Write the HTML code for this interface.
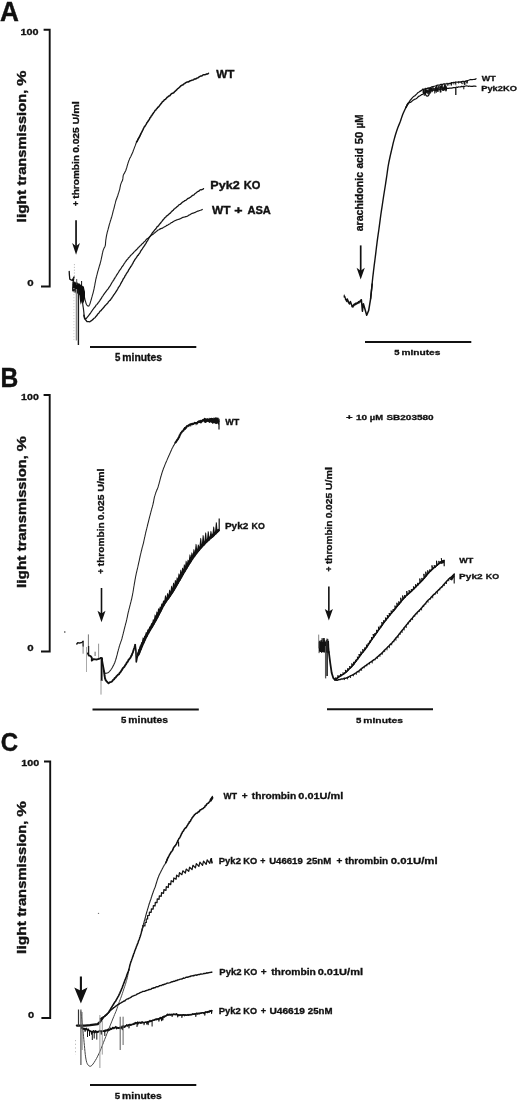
<!DOCTYPE html>
<html><head><meta charset="utf-8"><title>Figure</title>
<style>html,body{margin:0;padding:0;background:#fff;}body{width:520px;height:1105px;overflow:hidden;font-family:"Liberation Sans",sans-serif;}svg{display:block;filter:grayscale(1);}.t{stroke:#111;stroke-width:0.32px;vector-effect:non-scaling-stroke;}.tb{stroke:#111;stroke-width:0.4px;vector-effect:non-scaling-stroke;}</style>
</head><body>
<svg width="520" height="1105" viewBox="0 0 520 1105" font-family="Liberation Sans, sans-serif" font-weight="bold" fill="#111">
<path d="M43.6 29.8 H49.7 V286.5 H41.0" fill="none" stroke="#111" stroke-width="1.9"/>
<path d="M43.6 395.0 H49.7 V651.5 H41.0" fill="none" stroke="#111" stroke-width="1.9"/>
<path d="M44.0 761.5 H50.2 V1018.0 H41.4" fill="none" stroke="#111" stroke-width="1.9"/>
<line x1="90" y1="347" x2="196.3" y2="347" stroke="#111" stroke-width="2.0"/>
<line x1="365" y1="342" x2="471.3" y2="342" stroke="#111" stroke-width="2.0"/>
<line x1="92.5" y1="709.5" x2="198.8" y2="709.5" stroke="#111" stroke-width="2.0"/>
<line x1="327" y1="709.3" x2="433" y2="709.3" stroke="#111" stroke-width="2.0"/>
<line x1="90" y1="1085" x2="196.3" y2="1085" stroke="#111" stroke-width="2.0"/>
<line x1="76.05" y1="220.2" x2="76.05" y2="246.7" stroke="#111" stroke-width="1.7"/>
<path d="M72.15 243 L76.05 246.2 L79.95 243 L76.05 254.8 Z" fill="#111"/>
<line x1="360.7" y1="245.4" x2="360.7" y2="271.2" stroke="#111" stroke-width="1.7"/>
<path d="M356.6 267.7 L360.7 270.7 L364.8 267.7 L360.7 279.6 Z" fill="#111"/>
<line x1="101.5" y1="588" x2="101.5" y2="614" stroke="#111" stroke-width="1.6"/>
<path d="M97.5 610.7 L101.5 613.5 L105.5 610.7 L101.5 622.3 Z" fill="#111"/>
<line x1="328.85" y1="586.5" x2="328.85" y2="612" stroke="#111" stroke-width="1.6"/>
<path d="M324.8 609 L328.85 611.5 L332.9 609 L328.85 620.6 Z" fill="#111"/>
<line x1="80.9" y1="976.5" x2="80.9" y2="991.3" stroke="#111" stroke-width="2.1"/>
<path d="M74.3 987.6 L80.9 990.8 L87.5 987.6 L80.9 1003.5 Z" fill="#111"/>
<text transform="matrix(26.2121 0 0 26.7647 0.11 21.37)" font-size="1" word-spacing="0.09" class="tb" >A</text>
<text transform="matrix(24.5902 0 0 26.8116 0.58 386.80)" font-size="1" word-spacing="0.09" class="tb" >B</text>
<text transform="matrix(24.0000 0 0 26.3380 0.74 751.24)" font-size="1" word-spacing="0.09" class="tb" >C</text>
<text transform="matrix(10.8280 0 0 8.4507 20.45 34.52)" font-size="1" word-spacing="0.09" class="t" >100</text>
<text transform="matrix(10.6051 0 0 8.8028 21.11 399.81)" font-size="1" word-spacing="0.09" class="t" >100</text>
<text transform="matrix(10.7643 0 0 8.8732 21.25 766.21)" font-size="1" word-spacing="0.09" class="t" >100</text>
<text transform="matrix(11.4894 0 0 8.1690 27.34 285.92)" font-size="1" word-spacing="0.09" class="t" >0</text>
<text transform="matrix(11.4894 0 0 8.1690 27.34 650.92)" font-size="1" word-spacing="0.09" class="t" >0</text>
<text transform="matrix(11.0638 0 0 8.4507 27.96 1017.62)" font-size="1" word-spacing="0.09" class="t" >0</text>
<text transform="matrix(0 -15.4156 13.3511 0 25.95 222.38)" font-size="1" class="tb">light</text>
<text transform="matrix(0 -14.7408 13.3511 0 25.95 185.49)" font-size="1" class="tb">transmission,</text>
<text transform="matrix(0 -17.4921 13.3511 0 25.95 85.89)" font-size="1" class="tb">%</text>
<text transform="matrix(0 -15.4361 13.3511 0 25.95 588.08)" font-size="1" class="tb">light</text>
<text transform="matrix(0 -14.7604 13.3511 0 25.95 551.14)" font-size="1" class="tb">transmission,</text>
<text transform="matrix(0 -17.5153 13.3511 0 25.95 451.41)" font-size="1" class="tb">%</text>
<text transform="matrix(0 -15.4924 13.3511 0 25.95 953.88)" font-size="1" class="tb">light</text>
<text transform="matrix(0 -14.8143 13.3511 0 25.95 916.81)" font-size="1" class="tb">transmission,</text>
<text transform="matrix(0 -17.5793 13.3511 0 25.95 816.72)" font-size="1" class="tb">%</text>
<text transform="matrix(0 -8.3200 9.7297 0 79.10 206.12)" font-size="1" class="t">+</text>
<text transform="matrix(0 -10.1070 9.7297 0 79.10 198.72)" font-size="1" class="t">thrombin</text>
<text transform="matrix(0 -10.1869 9.7297 0 79.10 152.85)" font-size="1" class="t">0.025</text>
<text transform="matrix(0 -10.7569 9.7297 0 79.10 124.59)" font-size="1" class="t">U/ml</text>
<text transform="matrix(0 -8.3520 9.4595 0 104.11 573.63)" font-size="1" class="t">+</text>
<text transform="matrix(0 -10.1459 9.4595 0 104.11 566.19)" font-size="1" class="t">thrombin</text>
<text transform="matrix(0 -10.2261 9.4595 0 104.11 520.14)" font-size="1" class="t">0.025</text>
<text transform="matrix(0 -10.7982 9.4595 0 104.11 491.78)" font-size="1" class="t">U/ml</text>
<text transform="matrix(0 -8.2880 9.0541 0 331.51 571.42)" font-size="1" class="t">+</text>
<text transform="matrix(0 -10.0682 9.0541 0 331.51 564.05)" font-size="1" class="t">thrombin</text>
<text transform="matrix(0 -10.1477 9.0541 0 331.51 518.35)" font-size="1" class="t">0.025</text>
<text transform="matrix(0 -10.7155 9.0541 0 331.51 490.20)" font-size="1" class="t">U/ml</text>
<text transform="matrix(0 -10.5946 10.4255 0 362.71 231.32)" font-size="1" class="t">arachidonic</text>
<text transform="matrix(0 -10.3158 10.4255 0 362.71 168.61)" font-size="1" class="t">acid</text>
<text transform="matrix(0 -11.2500 10.4255 0 362.71 144.24)" font-size="1" class="t">50</text>
<text transform="matrix(0 -9.7778 10.4255 0 362.71 128.48)" font-size="1" class="t">µ</text>
<text transform="matrix(0 -9.8571 10.4255 0 362.71 122.69)" font-size="1" class="t">M</text>
<text transform="matrix(11.7097 0 0 11.2319 216.25 77.75)" font-size="1" word-spacing="0.09" class="tb" >WT</text>
<text transform="matrix(12.6233 0 0 11.0638 210.22 188.58)" font-size="1" class="tb">Pyk2</text>
<text transform="matrix(11.0791 0 0 11.0638 243.72 188.58)" font-size="1" class="tb">KO</text>
<text transform="matrix(11.9355 0 0 11.5493 212.00 214.08)" font-size="1" class="tb">WT</text>
<text transform="matrix(14.2000 0 0 11.5493 234.33 214.08)" font-size="1" class="tb">+</text>
<text transform="matrix(11.0976 0 0 11.5493 247.42 214.08)" font-size="1" class="tb">ASA</text>
<text transform="matrix(9.6720 0 0 10.0000 114.91 360.90)" font-size="1" class="t">5</text>
<text transform="matrix(10.3875 0 0 10.0000 122.33 360.90)" font-size="1" class="t">minutes</text>
<text transform="matrix(8.9677 0 0 7.8261 481.70 80.80)" font-size="1" word-spacing="0.09" class="t" >WT</text>
<text transform="matrix(9.3011 0 0 7.0213 481.25 90.53)" font-size="1" word-spacing="0.09" class="t" >Pyk2KO</text>
<text transform="matrix(9.4640 0 0 7.4324 394.22 354.93)" font-size="1" class="t">5</text>
<text transform="matrix(10.1641 0 0 7.4324 401.48 354.93)" font-size="1" class="t">minutes</text>
<text transform="matrix(9.0323 0 0 8.6957 225.20 425.20)" font-size="1" word-spacing="0.09" class="t" >WT</text>
<text transform="matrix(10.0393 0 0 8.6170 224.90 528.79)" font-size="1" class="t">Pyk2</text>
<text transform="matrix(8.8207 0 0 8.6170 251.52 528.79)" font-size="1" class="t">KO</text>
<text transform="matrix(9.6200 0 0 9.1216 120.96 722.91)" font-size="1" class="t">5</text>
<text transform="matrix(10.3317 0 0 9.1216 128.34 722.91)" font-size="1" class="t">minutes</text>
<text transform="matrix(11.4000 0 0 7.1429 345.94 420.00)" font-size="1" class="t">+</text>
<text transform="matrix(10.0000 0 0 7.1429 355.90 420.00)" font-size="1" class="t">10</text>
<text transform="matrix(9.4488 0 0 7.1429 369.74 420.00)" font-size="1" class="t">µM</text>
<text transform="matrix(9.9892 0 0 7.1429 386.45 420.00)" font-size="1" class="t">SB203580</text>
<text transform="matrix(9.0323 0 0 7.9710 459.30 563.10)" font-size="1" word-spacing="0.09" class="t" >WT</text>
<text transform="matrix(10.0781 0 0 7.9787 459.09 579.12)" font-size="1" class="t">Pyk2</text>
<text transform="matrix(8.8548 0 0 7.9787 485.82 579.12)" font-size="1" class="t">KO</text>
<text transform="matrix(9.6200 0 0 8.1081 355.96 722.92)" font-size="1" class="t">5</text>
<text transform="matrix(10.3317 0 0 8.1081 363.34 722.92)" font-size="1" class="t">minutes</text>
<text transform="matrix(8.6452 0 0 8.4459 223.50 798.67)" font-size="1" class="t">WT</text>
<text transform="matrix(10.0000 0 0 8.4459 241.85 798.67)" font-size="1" class="t">+</text>
<text transform="matrix(10.2582 0 0 8.4459 251.80 798.67)" font-size="1" class="t">thrombin</text>
<text transform="matrix(10.9375 0 0 8.4459 298.31 798.67)" font-size="1" class="t">0.01U/ml</text>
<text transform="matrix(9.5067 0 0 8.5106 218.73 863.71)" font-size="1" class="t">Pyk2</text>
<text transform="matrix(9.2806 0 0 8.5106 243.35 863.71)" font-size="1" class="t">KO</text>
<text transform="matrix(8.8000 0 0 8.5106 260.25 863.71)" font-size="1" class="t">+</text>
<text transform="matrix(9.6041 0 0 8.5106 269.17 863.71)" font-size="1" class="t">U46619</text>
<text transform="matrix(9.6341 0 0 8.5106 306.61 863.71)" font-size="1" class="t">25nM</text>
<text transform="matrix(10.0000 0 0 8.5106 336.50 863.71)" font-size="1" class="t">+</text>
<text transform="matrix(9.9765 0 0 8.5106 344.90 863.71)" font-size="1" class="t">thrombin</text>
<text transform="matrix(11.4125 0 0 8.5106 390.79 863.71)" font-size="1" class="t">0.01U/ml</text>
<text transform="matrix(9.5291 0 0 8.8298 219.33 974.75)" font-size="1" class="t">Pyk2</text>
<text transform="matrix(8.9928 0 0 8.8298 243.77 974.75)" font-size="1" class="t">KO</text>
<text transform="matrix(10.0000 0 0 8.8298 260.85 974.75)" font-size="1" class="t">+</text>
<text transform="matrix(10.3286 0 0 8.8298 271.15 974.75)" font-size="1" class="t">thrombin</text>
<text transform="matrix(11.0375 0 0 8.8298 317.66 974.75)" font-size="1" class="t">0.01U/ml</text>
<text transform="matrix(9.5067 0 0 8.7234 218.73 1013.67)" font-size="1" class="t">Pyk2</text>
<text transform="matrix(9.0647 0 0 8.7234 243.37 1013.67)" font-size="1" class="t">KO</text>
<text transform="matrix(9.2000 0 0 8.7234 260.63 1013.67)" font-size="1" class="t">+</text>
<text transform="matrix(10.1906 0 0 8.7234 269.39 1013.67)" font-size="1" class="t">U46619</text>
<text transform="matrix(9.6748 0 0 8.7234 307.81 1013.67)" font-size="1" class="t">25nM</text>
<text transform="matrix(9.6200 0 0 9.1216 114.71 1099.16)" font-size="1" class="t">5</text>
<text transform="matrix(10.3317 0 0 9.1216 122.09 1099.16)" font-size="1" class="t">minutes</text>
<path d="M83.8 292.95 L83.96 294.23 L84.11 295.18 L84.28 295.96 L84.47 297.04 L84.67 298 L84.89 299.06 L85.12 300.09 L85.35 300.78 L85.6 301.72 L85.89 303 L86.21 303.79 L86.65 304.82 L87.21 305.34 L87.99 306.12 L88.88 305.98 L89.39 304.93 L89.78 304.3 L90.12 303.34 L90.42 302.04 L90.71 301.08 L90.99 300.32 L91.26 299.52 L91.53 298.33 L91.81 297.31 L92.09 296.43 L92.36 295.31 L92.64 294.43 L92.9 293.55 L93.16 292.6 L93.4 291.53 L93.64 290.56 L93.86 289.58 L94.07 288.7 L94.27 287.65 L94.45 286.56 L94.63 285.9 L94.81 284.8 L94.99 283.85 L95.17 282.69 L95.35 282.03 L95.55 280.99 L95.75 279.72 L95.96 278.83 L96.18 278.01 L96.41 277.03 L96.65 276.15 L96.89 274.97 L97.14 274.17 L97.39 273.13 L97.64 272.02 L97.9 271.17 L98.17 270.32 L98.45 269.35 L98.73 268.25 L99.04 267.33 L99.34 266.16 L99.63 265.29 L99.92 264.55 L100.19 263.43 L100.45 262.37 L100.68 261.55 L100.9 260.64 L101.12 259.65 L101.33 258.55 L101.55 257.6 L101.75 256.65 L101.96 255.78 L102.17 254.7 L102.38 253.67 L102.6 252.73 L102.83 251.58 L103.07 250.61 L103.33 249.91 L103.65 249.08 L104.08 248.02 L104.67 247.13 L105.1 246.15 L105.31 245.31 L105.43 244.51 L105.51 243.42 L105.58 242.34 L105.66 241.47 L105.77 240.22 L105.9 239.34 L106.05 238.53 L106.21 237.39 L106.39 236.36 L106.57 235.3 L106.77 234.43 L106.99 233.62 L107.22 232.27 L107.47 231.61 L107.72 230.66 L107.99 229.72 L108.25 228.7 L108.52 227.76 L108.78 226.68 L109.04 225.73 L109.3 224.71 L109.57 223.6 L109.85 222.97 L110.14 221.89 L110.43 220.78 L110.73 219.95 L111.04 218.99 L111.34 217.99 L111.63 217.03 L111.92 216.15 L112.18 215.22 L112.44 214.24 L112.68 213.21 L112.93 212.07 L113.17 211.18 L113.42 210.19 L113.67 209.39 L113.91 208.53 L114.16 207.53 L114.4 206.56 L114.65 205.6 L114.9 204.41 L115.15 203.68 L115.42 202.65 L115.69 201.45 L115.97 200.46 L116.28 199.51 L116.62 198.87 L116.97 197.73 L117.32 196.73 L117.65 196 L117.96 194.93 L118.27 193.87 L118.57 192.95 L118.86 192.15 L119.15 191.04 L119.43 190.12 L119.68 189.33 L119.91 188.26 L120.1 187.22 L120.3 186.3 L120.5 185.14 L120.76 184.32 L121.09 183.39 L121.48 182.38 L121.89 181.44 L122.31 180.84 L122.65 179.75 L122.85 178.65 L122.95 177.82 L123.02 176.9 L123.21 175.6 L123.54 174.66 L123.98 173.82 L124.48 173.18 L124.97 172.08 L125.39 171.4 L125.8 170.47 L126.11 169.47 L126.43 168.39 L126.71 167.74 L126.99 166.7 L127.27 165.63 L127.55 164.55 L127.83 163.77 L128.14 162.71 L128.46 161.84 L128.78 160.79 L129.16 159.99 L129.55 158.84 L129.97 158.02 L130.4 157.39 L130.83 156.45 L131.27 155.33 L131.71 154.65 L132.12 153.52 L132.53 152.86 L132.91 151.85 L133.27 150.79 L133.63 149.79 L133.97 148.75 L134.31 148.16 L134.65 146.88 L134.99 146.26 L135.34 145.38 L135.7 144.29 L136.08 143.2 L136.46 142.55 L136.89 141.69 L137.32 140.69 L137.77 139.71 L138.24 138.78 L138.71 137.89 L139.2 136.95 L139.69 136.27 L140.17 135.3 L140.66 134.33 L140.8 134.04" fill="none" stroke="#222" stroke-width="1.1" stroke-linejoin="round" stroke-linecap="round" />
<path d="M136.5 142.07 L136.97 141.55 L137.44 140.63 L137.92 139.64 L138.39 138.58 L138.86 138.1 L139.33 137.22 L139.8 136.13 L140.26 135.24 L140.72 134.17 L141.17 133.11 L141.61 132.47 L142.05 131.72 L142.48 130.46 L142.91 130.06 L143.34 128.77 L143.78 127.87 L144.25 126.85 L144.73 126.64 L145.24 125.61 L145.8 124.87 L146.38 123.87 L146.96 122.65 L147.53 122.03 L148.07 121.31 L148.6 120.2 L149.12 119.93 L149.64 118.67 L150.16 117.66 L150.69 117.28 L151.23 115.95 L151.79 115.68 L152.35 114.53 L152.93 113.78 L153.51 112.82 L154.1 112.11 L154.7 111.1 L155.3 110.2 L155.92 110 L156.55 108.77 L157.19 108.38 L157.83 107.22 L158.47 106.99 L159.12 106.17 L159.76 105.3 L160.39 104.54 L161.03 103.64 L161.67 102.98 L162.32 101.79 L163 101.3 L163.69 100.83 L164.41 99.7 L165.15 99.52 L165.9 98.84 L166.65 97.85 L167.42 97.17 L168.19 96.6 L168.98 95.93 L169.77 95.75 L170.56 94.71 L171.35 93.85 L172.15 93.3 L172.95 93.14 L173.75 92.73 L174.53 91.75 L175.28 91.09 L176.01 90.44 L176.72 89.88 L177.45 88.83 L178.2 88.43 L178.95 87.74 L179.71 87.13 L180.47 86.18 L181.26 85.56 L182.07 85.09 L182.89 84.93 L183.73 83.98 L184.59 83.64 L185.45 82.94 L186.34 82.33 L187.24 81.87 L188.15 81.99 L189.07 81.55 L189.98 80.86 L190.9 80.68 L191.81 80.27 L192.73 80.04 L193.65 79.69 L194.58 78.92 L195.5 78.94 L196.42 78.53 L197.33 77.87 L198.24 77.65 L199.15 76.95 L200.06 76.45 L200.97 75.95 L201.88 75.98 L202.79 75.07 L203.72 74.63 L204.66 74.8 L205.61 74.49 L206.58 74.04 L207.56 74.06 L208.5 73.29" fill="none" stroke="#111" stroke-width="1.5" stroke-linejoin="round" stroke-linecap="round" />
<path d="M82.3 301.73 L82.46 302.71 L82.62 303.25 L82.78 304.25 L82.93 305.62 L83.09 306.56 L83.24 307.51 L83.39 308.32 L83.52 309.46 L83.64 310.45 L83.74 311.43 L83.83 312.22 L83.93 313.35 L84.04 314.32 L84.19 315.48 L84.42 316.59 L84.72 317.52 L85.16 318.21 L85.94 318.7 L86.7 317.99 L87.35 317.11 L87.96 316.32 L88.56 315.73 L89.14 314.85 L89.71 314.06 L90.3 313.5 L90.88 312.51 L91.46 311.71 L92.04 310.74 L92.62 309.81 L93.2 309.15 L93.78 308.24 L94.37 307.62 L94.96 307.05 L95.55 306.09 L96.16 305.05 L96.78 304.62 L97.41 303.8 L98.03 302.98 L98.65 302.28 L99.25 301.41 L99.83 300.61 L100.39 299.56 L100.94 299.04 L101.48 298.19 L102.02 296.95 L102.56 296.4 L103.1 295.54 L103.66 294.58 L104.22 293.79 L104.81 292.96 L105.4 292.38 L106.02 291.38 L106.63 290.75 L107.25 289.72 L107.85 289.19 L108.44 288.39 L109.02 287.36 L109.57 286.58 L110.11 285.91 L110.64 284.97 L111.17 284 L111.69 283.01 L112.21 282.21 L112.73 281.54 L113.26 280.43 L113.78 279.94 L114.3 278.77 L114.81 278.23 L115.33 277.08 L115.86 276.55 L116.39 275.58 L116.93 274.63 L117.47 273.8 L118.01 273.03 L118.55 272.15 L119.1 271.18 L119.65 270.29 L120.2 269.61 L120.75 268.99 L121.31 268 L121.86 266.89 L122.42 266.43 L122.97 265.56 L123.53 264.82 L124.1 263.64 L124.67 263.09 L125.25 261.94 L125.84 261.42 L126.45 260.44 L127.06 259.63 L127.69 259.17 L128.32 258.01 L128.96 257.45 L129.62 256.86 L130.28 255.81 L130.96 255.06 L131.65 254.67 L132.36 253.74 L133.08 253.19 L133.8 252.15 L134.51 251.61 L135.22 250.81 L135.92 250.35 L136.62 249.34 L137.32 249.06 L138.01 247.88 L138.71 247.52 L139.41 246.45 L140.12 245.86 L140.82 245.43 L141.53 244.39 L142.24 243.7 L142.95 243.25 L143.65 242.39 L144.36 241.51 L145.06 241.27 L145.75 240.13 L146.46 239.36 L147.19 238.83 L147.94 238.3 L148.7 237.73 L149.48 236.78 L150.26 236.27 L151.04 235.49 L151.82 235.07 L152.59 234.59 L153.36 233.94 L154.13 233.38 L154.9 232.67 L155.68 232.1 L156.47 231.41 L157.28 230.7 L158.1 230.02 L158.96 229.72 L159.87 229.12 L160.78 228.62 L161.69 228.37 L162.58 228.13 L163.46 227.27 L164.32 227 L165.19 226.41 L166.05 225.96 L166.92 225.28 L167.78 225.18 L168.65 224.33 L169.51 224 L170.38 223.4 L171.24 222.7 L172.11 222.48 L172.99 221.78 L173.87 221.27 L174.75 220.8 L175.65 220.41 L176.54 219.94 L177.45 219.78 L178.36 219.31 L179.28 219.15 L180.2 218.74 L181.13 218.39 L182.06 217.66 L183.01 217.43 L183.96 217.03 L184.92 216.91 L185.87 216.63 L186.81 216.38 L187.73 215.93 L188.61 215.23 L189.48 214.83 L190.38 214.44 L191.29 213.78 L192.22 213.4 L193.14 213.2 L194.06 212.67 L194.98 212.59 L195.91 211.96 L196.83 211.51 L197.76 211.18 L198.69 210.84 L199.62 210.47 L200.56 210.27 L201.49 209.89 L202.3 209.5" fill="none" stroke="#1a1a1a" stroke-width="1.2" stroke-linejoin="round" stroke-linecap="round" />
<path d="M83.8 315.24 L84.01 316.4 L84.24 317.27 L84.53 318.37 L84.96 319.28 L85.51 319.78 L86.18 320.49 L86.99 321.57 L87.89 321.64 L88.88 321.72 L89.83 321.87 L90.69 321.05 L91.52 320.71 L92.32 319.9 L93.09 319.36 L93.84 318.41 L94.57 318.01 L95.25 317.42 L95.91 316.46 L96.56 315.83 L97.2 315.02 L97.83 313.88 L98.47 313.53 L99.11 312.66 L99.76 311.73 L100.41 310.8 L101.05 310.54 L101.7 309.54 L102.35 308.93 L103 308.27 L103.66 307.41 L104.31 306.78 L104.98 305.72 L105.65 305.23 L106.33 304.28 L107.02 303.85 L107.7 303.08 L108.38 301.88 L109.06 301.17 L109.7 300.45 L110.35 300.14 L110.96 299.02 L111.56 298.34 L112.13 297.33 L112.7 296.63 L113.25 295.72 L113.8 294.86 L114.35 294.16 L114.89 293.32 L115.43 292.67 L115.96 291.7 L116.49 291 L117.02 290.1 L117.54 289.33 L118.06 288.28 L118.58 287.12 L119.09 286.68 L119.6 285.88 L120.1 284.98 L120.59 283.91 L121.09 283.13 L121.58 281.95 L122.06 281.45 L122.55 280.43 L123.04 279.38 L123.54 278.38 L124.04 277.99 L124.54 277.2 L125.05 275.8 L125.56 275.37 L126.08 274.28 L126.6 273.28 L127.13 272.51 L127.65 271.94 L128.17 271.15 L128.7 269.8 L129.22 269.3 L129.74 268.1 L130.27 267.65 L130.78 266.56 L131.29 266.03 L131.8 265.23 L132.31 264.08 L132.81 263.52 L133.32 262.24 L133.83 261.24 L134.35 260.7 L134.88 259.51 L135.43 258.78 L135.99 258.07 L136.57 257.38 L137.16 256.3 L137.75 255.43 L138.32 255.1 L138.89 253.95 L139.44 253.5 L139.98 252.62 L140.52 251.46 L141.05 250.67 L141.58 249.86 L142.12 249.09 L142.66 248.22 L143.22 247.36 L143.78 246.57 L144.34 245.94 L144.91 244.85 L145.46 243.98 L146 243.31 L146.51 242.16 L147.01 241.33 L147.51 240.87 L148.02 239.74 L148.55 238.91 L149.08 237.74 L149.62 237.13 L150.16 236.39 L150.7 235.21 L151.25 234.74 L151.81 233.92 L152.38 232.76 L152.97 232.29 L153.57 231.39 L154.18 230.73 L154.81 229.75 L155.44 229.19 L156.1 228.46 L156.77 227.28 L157.43 226.55 L158.07 226.16 L158.71 225.56 L159.35 224.36 L159.98 223.71 L160.62 223.02 L161.25 222.09 L161.89 221.34 L162.52 220.54 L163.15 219.79 L163.79 219.16 L164.44 218.22 L165.12 217.53 L165.83 217.07 L166.56 215.94 L167.32 215.62 L168.09 215.08 L168.86 214.18 L169.61 213.47 L170.35 213.15 L171.07 212.11 L171.78 211.38 L172.48 210.82 L173.19 210.27 L173.91 209.21 L174.64 208.66 L175.39 208 L176.14 207.65 L176.9 206.76 L177.67 206.37 L178.44 205.33 L179.22 204.8 L180.01 204.37 L180.8 203.9 L181.6 203.04 L182.41 202.32 L183.22 201.67 L184.03 201.34 L184.86 200.56 L185.68 200.36 L186.51 199.82 L187.34 198.88 L188.18 198.38 L189.01 198.15 L189.85 197.5 L190.69 197.06 L191.53 196.24 L192.36 195.56 L193.19 195.09 L193.99 194.8 L194.78 193.86 L195.54 193.27 L196.32 192.68 L197.1 192.06 L197.92 191.48 L198.77 191.26 L199.64 190.31 L200.53 189.76 L201.42 189.88 L202.32 189.4 L203.22 189.03 L203.5 188.56" fill="none" stroke="#151515" stroke-width="1.3" stroke-linejoin="round" stroke-linecap="round" />
<path d="M69.2 271.4 L69.4 275 L69.8 279.2 L71 279.8 L72.1 280.4 L73.2 278.5 L74.1 276.9 L73.6 279.5 L73 282.7" fill="none" stroke="#111" stroke-width="1.3" stroke-linejoin="round" stroke-linecap="round" />
<line x1="74.4" y1="264" x2="74.4" y2="279" stroke="#bbb" stroke-width="1" stroke-dasharray="1.2 1.6"/>
<path d="M72.61 284 L72.8 284.68 L72.81 290.77 L72.85 288.2 L72.95 287.92 L72.96 286.62 L73.06 291.42 L73.42 284.66 L73.47 288.5 L73.5 287.73 L73.55 288.65 L73.6 289.73 L73.64 285.78 L73.67 288.18 L73.68 290.34 L73.72 285.55 L73.79 292.11 L73.8 283.29 L73.99 286.83 L74 285.18 L74.16 289.05 L74.22 287.69 L74.27 283.34 L74.47 283.27 L74.69 290.1 L74.7 286.76 L74.78 284.77 L74.8 288.18 L74.86 285.66 L74.87 290.31 L74.94 292.43 L74.96 287.51 L75.01 285.06 L75.11 287.25 L75.13 286.08 L75.14 285.98 L75.15 287.46 L75.44 290.4 L75.49 289.45 L75.57 285.58 L75.64 283.93 L75.66 291.66 L75.89 285.58 L76.04 284.73 L76.13 284.81 L76.18 290.59 L76.22 292.58 L76.35 286.43 L76.35 292.22 L76.39 293.77 L76.49 290.66 L76.79 291.02 L76.91 293.05 L77.02 288.96 L77.56 292.49 L77.62 286 L77.84 293.11 L77.84 293.15 L77.86 293.63 L77.9 285.76 L77.96 287.83 L77.98 290.55 L78.04 287.91 L78.32 287.62 L78.34 292.38 L78.55 291.86 L78.64 291.21 L78.78 291.79 L78.89 286.34 L79.26 290.24 L79.26 294.09 L79.41 287.34 L79.44 294.33 L79.53 291.94 L79.54 289.17 L79.7 289.05 L79.91 289.05 L79.91 295.13 L80.04 290.09 L80.05 291.16 L80.1 294.03 L80.38 292.52 L80.83 292.49 L80.85 287.35 L80.91 291.71 L80.94 296.15 L81.06 296.1 L81.27 290.89 L81.35 292.77 L81.37 295.81 L81.37 293.95 L81.4 296.21 L81.72 291.28 L81.8 290.64 L81.86 290.12 L82.04 296.36 L82.08 289.38 L82.19 296.44 L82.56 296.04 L82.6 294.72 L82.67 291.72 L82.77 294.2 L82.88 293.61 L83.08 291.94 L83.1 294.03 L83.32 296.71 L83.38 294.74 L83.41 296.26 L83.43 292.96 L83.52 290.49 L83.6 293.02 L84 296.89 L84.01 293.44 L84.07 296.08 L84.15 296.56 L84.27 292.78 L84.27 295.24 L84.29 298.18 L84.42 297.45 L84.47 298.58" fill="none" stroke="#111" stroke-width="0.8" stroke-linejoin="round" stroke-linecap="round" />
<path d="M72.38 283.63 L73.6 281.21 L73.91 282.5 L74.86 281.25 L76.11 283.08 L77.03 281.93 L77.99 283.55 L79.3 283.32 L80.24 284.86 L81.34 284.15 L82.5 285.92 L83.81 286.41 L84.34 289.33 L85.01 291.67 L84.89 296.36 L84.57 299.44 L83.78 302.35 L82.87 303.73 L81.92 301.14 L80.8 304.75 L80.14 301.94 L79.66 296.98 L79.13 292.12 L78.64 289.87 L77.29 289.13 L75.41 288.39 L74.61 287.34 L72.97 287.39 L72.72 286.01 Z" fill="#0d0d0d"/>
<line x1="76.4" y1="289" x2="76.4" y2="340.5" stroke="#8a8a8a" stroke-width="1.3"/>
<line x1="78.4" y1="290" x2="78.4" y2="345" stroke="#1a1a1a" stroke-width="1.4"/>
<line x1="81.6" y1="281" x2="81.6" y2="286" stroke="#111" stroke-width="1.0"/>
<line x1="76.7" y1="279" x2="76.7" y2="285" stroke="#444" stroke-width="0.9"/>
<line x1="73.9" y1="288" x2="73.9" y2="340" stroke="#ccc" stroke-width="0.9" stroke-dasharray="1.2 1.8"/>
<path d="M344.28 294.97 L344.08 297.01 L344.32 295.81 L344.68 297.41 L344.95 296.57 L345.15 298.23 L345.18 296.94 L345.39 299.46 L345.58 298.35 L345.83 300.06 L345.79 299.07 L346.21 300.86 L346.47 299.48 L346.71 301.61 L346.96 299.83 L346.93 301.32 L347.08 298.86 L347.61 300.39 L347.53 298.84 L347.96 300.79 L347.88 299.85 L348.04 302.11 L348.39 300.7 L348.52 302.78 L348.88 301.67 L348.83 303.56 L349 302.31 L349.32 304.26 L349.7 302.8 L349.66 304.31 L349.91 302.06 L350.08 303.41 L350.57 301.27 L350.6 302.8 L350.99 302.15 L351.01 303.79 L351.06 302.88 L351.14 304.44 L351.41 303.44 L351.6 305.41 L351.76 304.79 L351.8 306.67 L352.22 305.33 L352.42 307.24 L352.72 305.63 L353.21 307.08 L353.29 304.87 L353.6 306.09 L353.92 304.07 L354.14 305.78 L354.28 303.7 L354.94 304.98 L355.2 303.32 L355.73 304.71 L355.98 302.83 L356.5 304.19 L356.82 302.82 L357.45 303.73 L357.58 302.41 L358.04 303.25 L358.38 301.52 L359 303.22 L359.04 301.33 L359.75 302.24 L359.86 300.75 L360.25 302.14 L360.68 300.12 L360.77 301.1 L361.05 299.67 L361.47 300.34" fill="none" stroke="#111" stroke-width="1.1" stroke-linejoin="round" stroke-linecap="round" />
<path d="M361.4 299.8 L362.4 311.3 L363.4 303.7 L366.7 315.2 L368.7 310.4 L370.6 298.8 L372.2 284" fill="none" stroke="#111" stroke-width="1.5" stroke-linejoin="round" stroke-linecap="round" />
<path d="M370.6 298.8 L370.97 295.11 L371.51 289.74 L372.07 284.2 L372.5 280 L372.73 277.8 L372.85 276.7 L372.95 275.9 L373.1 274.6 L373.34 272.57 L373.61 270.24 L373.91 267.79 L374.2 265.4 L374.5 263.1 L374.8 260.81 L375.1 258.51 L375.4 256.2 L375.68 253.88 L375.95 251.55 L376.22 249.22 L376.5 246.9 L376.8 244.56 L377.1 242.2 L377.4 239.89 L377.7 237.7 L377.96 235.84 L378.2 234.21 L378.46 232.4 L378.8 230 L379.25 226.65 L379.78 222.64 L380.31 218.57 L380.8 215 L381.21 212.15 L381.58 209.69 L381.94 207.38 L382.3 205 L382.67 202.5 L383.04 200 L383.42 197.5 L383.8 195 L384.2 192.5 L384.6 190 L385 187.5 L385.4 185 L385.79 182.46 L386.17 179.91 L386.55 177.39 L386.9 175 L387.21 172.75 L387.5 170.61 L387.79 168.53 L388.1 166.5 L388.44 164.54 L388.81 162.64 L389.19 160.76 L389.6 158.8 L390.04 156.75 L390.52 154.65 L391.01 152.52 L391.5 150.4 L392 148.24 L392.5 146.06 L393 143.91 L393.5 141.9 L393.97 140.06 L394.43 138.35 L394.9 136.69 L395.4 135 L395.94 133.28 L396.5 131.55 L397.09 129.83 L397.7 128.1 L398.36 126.37 L399.05 124.63 L399.74 122.9 L400.4 121.2 L400.98 119.54 L401.52 117.9 L402.08 116.26 L402.7 114.6 L403.44 112.84 L404.25 111.01 L405.06 109.25 L405.8 107.7 L406.49 106.34 L407.14 105.12 L407.71 104.11 L408.1 103.4" fill="none" stroke="#111" stroke-width="1.4" stroke-linejoin="round" stroke-linecap="round" />
<path d="M405.8 107.54 L406.22 106.56 L406.64 105.82 L407.08 104.78 L407.53 103.84 L408.03 103.17 L408.58 102.65 L409.18 101.77 L409.8 100.97 L410.45 99.88 L411.11 99.32 L411.79 98.43 L412.48 97.65 L413.19 96.9 L413.91 96.27 L414.63 96.01 L415.36 95.26 L416.1 94.58 L416.85 93.92 L417.62 92.91 L418.39 92.35 L419.18 91.91 L419.97 91.37 L420.79 90.87 L421.66 90.39 L422.57 89.5 L423.51 89.48 L424.47 89.23 L425.44 88.9 L426.42 88.5 L427.4 88.46 L428.36 87.96 L429.29 88.12 L430.22 87.7 L431.15 87.15 L432.1 86.69 L433.05 86.75 L434.01 86.25 L434.97 86.16 L435.93 85.87 L436.9 85.41 L437.87 85.12 L438.85 85.01 L439.83 84.72 L440.81 84.37 L441.8 84.29 L442.78 84.44 L443.78 83.85 L444.77 83.74 L445.77 84 L446.76 83.7 L447.76 83.75 L448.75 83.59 L449.73 83.33 L450.71 83.51 L451.68 82.8 L452.66 82.71 L453.64 82.39 L454.62 82.48 L455.62 82.15 L456.61 82.1 L457.61 82.25 L458.61 81.92 L459.6 81.99 L460.6 82.12 L461.6 81.55 L462.59 81.43 L463.59 81.44 L464.58 81.64 L465.57 81.39 L466.54 80.94 L467.49 80.69 L468.42 80.23 L469.35 80.03 L470.3 79.47 L471.27 79.64 L472.26 79.59 L473.25 79.52 L474.25 79.29 L475.25 79.34 L476 78.71" fill="none" stroke="#111" stroke-width="1.2" stroke-linejoin="round" stroke-linecap="round" />
<path d="M405.8 107.76 L406.28 106.94 L406.75 106.09 L407.25 105.3 L407.79 104.36 L408.44 103.69 L409.26 102.68 L410.14 102.43 L410.96 102.1 L411.75 101.34 L412.55 100.86 L413.37 99.9 L414.24 99.59 L415.16 99.08 L416.05 98.78 L416.88 98.23 L417.63 97.3 L418.36 96.71 L419.11 96.08 L419.92 95.82 L420.81 95.29 L421.72 94.59 L422.63 94.48 L423.48 93.63 L424.3 93.3 L425.16 92.54 L426.06 92.05 L426.99 92.11 L427.93 91.44 L428.87 91.11 L429.83 91.2 L430.79 90.88 L431.76 90.34 L432.74 90.49 L433.73 90.13 L434.72 90.08 L435.72 89.73 L436.71 89.99 L437.7 89.74 L438.7 89.76 L439.69 89.6 L440.68 89.19 L441.68 89.1 L442.67 88.88 L443.66 88.76 L444.65 88.6 L445.65 88.6 L446.64 88.63 L447.63 88.22 L448.63 88.43 L449.62 88.14 L450.61 88.01 L451.6 88.14 L452.6 87.85 L453.59 87.64 L454.58 87.59 L455.57 87.56 L456.56 87.08 L457.55 87.39 L458.53 86.76 L459.53 86.99 L460.52 86.91 L461.51 86.37 L462.5 86.63 L463.5 86.32 L464.49 86.34 L465.49 85.99 L466.49 85.97 L467.49 86.02 L468.49 86.39 L469.49 86.01 L470.49 86.29 L471.49 86.38 L472.49 86.39 L473.49 86.1 L474.49 86.12 L475.49 86.21 L476 86.34" fill="none" stroke="#111" stroke-width="1.2" stroke-linejoin="round" stroke-linecap="round" />
<line x1="436.47" y1="88.12" x2="436.25" y2="92.89" stroke="#111" stroke-width="0.9259299840042889"/>
<line x1="444.32" y1="87.74" x2="444.48" y2="89.99" stroke="#111" stroke-width="0.9085586389284837"/>
<line x1="434.83" y1="89.89" x2="434.78" y2="93.5" stroke="#111" stroke-width="1.0717805783186787"/>
<line x1="438.07" y1="86.38" x2="438.07" y2="89.12" stroke="#111" stroke-width="0.6262990211810339"/>
<line x1="437.39" y1="88.39" x2="437.73" y2="91.59" stroke="#111" stroke-width="1.063992272762439"/>
<line x1="436.11" y1="88.41" x2="435.67" y2="90.38" stroke="#111" stroke-width="1.0900112110661477"/>
<line x1="429.47" y1="87.72" x2="429.72" y2="92.81" stroke="#111" stroke-width="0.6615914339330472"/>
<line x1="430.38" y1="87.67" x2="429.89" y2="90.26" stroke="#111" stroke-width="0.8623418184314038"/>
<line x1="429.96" y1="88.4" x2="429.57" y2="90.65" stroke="#111" stroke-width="0.6164573168925137"/>
<line x1="443.88" y1="87.14" x2="443.51" y2="90.88" stroke="#111" stroke-width="0.6744748081761048"/>
<line x1="425.43" y1="88.97" x2="425.21" y2="90.71" stroke="#111" stroke-width="0.7014473805840321"/>
<line x1="427.22" y1="90.07" x2="427.2" y2="93.4" stroke="#111" stroke-width="0.7790305882306003"/>
<line x1="435.71" y1="88.94" x2="435.28" y2="91.67" stroke="#111" stroke-width="0.8405855483553163"/>
<line x1="431.79" y1="89.7" x2="432.16" y2="91.64" stroke="#111" stroke-width="0.6074134652947092"/>
<line x1="435.78" y1="87.45" x2="436.17" y2="90.21" stroke="#111" stroke-width="0.9510504434378588"/>
<line x1="426.5" y1="89.53" x2="426.03" y2="93.48" stroke="#111" stroke-width="0.6437333207039945"/>
<line x1="437.24" y1="88.39" x2="437.16" y2="91.74" stroke="#111" stroke-width="0.8534727022289775"/>
<line x1="428.88" y1="90.69" x2="428.87" y2="94.72" stroke="#111" stroke-width="0.6102662174368046"/>
<line x1="432.23" y1="89.71" x2="431.83" y2="92.51" stroke="#111" stroke-width="0.6926313099078273"/>
<line x1="439.94" y1="87.39" x2="440.06" y2="90.03" stroke="#111" stroke-width="0.9803302821671604"/>
<line x1="446.17" y1="87.04" x2="446.48" y2="90.28" stroke="#111" stroke-width="1.0627050483457345"/>
<line x1="443.79" y1="87.17" x2="443.8" y2="91.02" stroke="#111" stroke-width="1.0251319607600893"/>
<line x1="437.81" y1="88.24" x2="437.41" y2="90.65" stroke="#111" stroke-width="0.7351774440998561"/>
<line x1="436.79" y1="87.81" x2="436.48" y2="90.1" stroke="#111" stroke-width="1.0750496954059443"/>
<line x1="424.25" y1="91.83" x2="424.33" y2="95.65" stroke="#111" stroke-width="1.097787965566393"/>
<line x1="439.15" y1="84.9" x2="439.07" y2="90.15" stroke="#111" stroke-width="1.058304979239279"/>
<line x1="442.44" y1="84.81" x2="441.96" y2="86.46" stroke="#111" stroke-width="0.9903181709716795"/>
<line x1="441.89" y1="85.3" x2="441.76" y2="87.25" stroke="#111" stroke-width="0.999669583486978"/>
<line x1="440.65" y1="88.3" x2="440.9" y2="92.37" stroke="#111" stroke-width="1.0178020503249758"/>
<line x1="422.9" y1="88.15" x2="423.02" y2="93.1" stroke="#111" stroke-width="0.7634083633303353"/>
<line x1="425.64" y1="89" x2="425.64" y2="91.86" stroke="#111" stroke-width="0.8249268862276348"/>
<line x1="427.45" y1="87.56" x2="427.08" y2="89.87" stroke="#111" stroke-width="0.6501181526985311"/>
<line x1="432.66" y1="86.73" x2="432.7" y2="91.43" stroke="#111" stroke-width="0.8300448578738078"/>
<line x1="438.16" y1="86.08" x2="437.74" y2="87.67" stroke="#111" stroke-width="0.7685886017461794"/>
<line x1="431.35" y1="87.52" x2="431.68" y2="90.24" stroke="#111" stroke-width="0.6043155532173343"/>
<line x1="433.5" y1="87.65" x2="433.73" y2="90.27" stroke="#111" stroke-width="0.7122277556443218"/>
<line x1="423.54" y1="88.68" x2="423.38" y2="94.09" stroke="#111" stroke-width="0.6585347779886167"/>
<line x1="446.29" y1="86.22" x2="446.12" y2="91.24" stroke="#111" stroke-width="1.0049849487095486"/>
<line x1="423.51" y1="89.02" x2="423.53" y2="93.7" stroke="#111" stroke-width="0.9947033879006675"/>
<line x1="431.95" y1="90.08" x2="432.08" y2="91.89" stroke="#111" stroke-width="0.6942882700987231"/>
<line x1="427.39" y1="91.02" x2="427.7" y2="94.24" stroke="#111" stroke-width="0.7419818411835543"/>
<line x1="440.39" y1="88.52" x2="440.13" y2="92.42" stroke="#111" stroke-width="0.9341301035390503"/>
<line x1="445.8" y1="86.99" x2="445.7" y2="90.26" stroke="#111" stroke-width="0.6492967492674183"/>
<line x1="441.33" y1="85.11" x2="440.86" y2="87.49" stroke="#111" stroke-width="0.6819837383429163"/>
<line x1="431.9" y1="88.37" x2="431.83" y2="90.57" stroke="#111" stroke-width="0.9790361927320674"/>
<line x1="424.87" y1="88.31" x2="425.28" y2="91.9" stroke="#111" stroke-width="1.0588460583852832"/>
<line x1="436.44" y1="85.81" x2="436.94" y2="90.8" stroke="#111" stroke-width="1.0496505616805798"/>
<line x1="435.51" y1="87.24" x2="435.8" y2="91.09" stroke="#111" stroke-width="1.0971469508165734"/>
<line x1="434.59" y1="87.96" x2="434.63" y2="90.7" stroke="#111" stroke-width="0.8718344495920798"/>
<line x1="429.44" y1="88.78" x2="429.17" y2="93.95" stroke="#111" stroke-width="0.7269152015969199"/>
<line x1="429.96" y1="90.4" x2="430.29" y2="93.11" stroke="#111" stroke-width="1.064440335742404"/>
<line x1="443.96" y1="87.37" x2="443.91" y2="89.65" stroke="#111" stroke-width="1.0116052611229072"/>
<line x1="428.52" y1="89.58" x2="428.96" y2="94.57" stroke="#111" stroke-width="0.7753132890578605"/>
<line x1="425.42" y1="87.75" x2="425.47" y2="90.52" stroke="#111" stroke-width="0.7402266160694155"/>
<line x1="442.68" y1="86.96" x2="443.01" y2="90.94" stroke="#111" stroke-width="0.7642038294010169"/>
<line x1="438.42" y1="86.52" x2="438.04" y2="89.18" stroke="#111" stroke-width="0.9943060208666774"/>
<line x1="444.56" y1="83.92" x2="444.12" y2="88.29" stroke="#111" stroke-width="0.8088016812427867"/>
<line x1="430.26" y1="90.53" x2="430.27" y2="93.76" stroke="#111" stroke-width="0.7779834732466901"/>
<line x1="428.74" y1="88" x2="428.25" y2="89.75" stroke="#111" stroke-width="0.8750586214251779"/>
<line x1="440.59" y1="87.47" x2="441.08" y2="90" stroke="#111" stroke-width="0.6393982988792808"/>
<line x1="433.08" y1="87.52" x2="433.54" y2="89.74" stroke="#111" stroke-width="0.9575792584852072"/>
<line x1="425.72" y1="88.32" x2="425.59" y2="93.06" stroke="#111" stroke-width="0.7507503231990774"/>
<line x1="429.77" y1="88.15" x2="429.58" y2="92" stroke="#111" stroke-width="0.8959687670555411"/>
<line x1="424.05" y1="90.19" x2="423.87" y2="94.03" stroke="#111" stroke-width="1.0337760252879542"/>
<line x1="445.24" y1="86.48" x2="444.91" y2="89.62" stroke="#111" stroke-width="0.9128080437628734"/>
<line x1="429.58" y1="87.49" x2="429.28" y2="91.12" stroke="#111" stroke-width="0.9196347597612344"/>
<line x1="441.11" y1="84.53" x2="440.8" y2="88.56" stroke="#111" stroke-width="0.7684871336417881"/>
<line x1="440.22" y1="88.81" x2="440.47" y2="91.56" stroke="#111" stroke-width="0.7734022653542457"/>
<line x1="445.54" y1="84.34" x2="445.13" y2="88.5" stroke="#111" stroke-width="0.8799512709251338"/>
<line x1="440.71" y1="88.49" x2="440.76" y2="92.36" stroke="#111" stroke-width="0.8000320313129752"/>
<line x1="437.93" y1="87.9" x2="438.15" y2="91.85" stroke="#111" stroke-width="0.97265792791949"/>
<line x1="445.46" y1="86.28" x2="445.7" y2="91.28" stroke="#111" stroke-width="0.7900582724479268"/>
<line x1="442.16" y1="85.84" x2="442.54" y2="90.65" stroke="#111" stroke-width="1.0484063729266513"/>
<line x1="444.8" y1="86.72" x2="444.59" y2="90.21" stroke="#111" stroke-width="0.9195584651843447"/>
<line x1="444.37" y1="85.37" x2="444.63" y2="87.71" stroke="#111" stroke-width="1.0547235933960772"/>
<line x1="451.33" y1="82.14" x2="451.37" y2="83.21" stroke="#111" stroke-width="0.8"/>
<line x1="464.47" y1="80.89" x2="464.11" y2="83.59" stroke="#111" stroke-width="0.8"/>
<line x1="451.39" y1="82.87" x2="451.39" y2="85.49" stroke="#111" stroke-width="0.8"/>
<line x1="461.44" y1="81.43" x2="461.46" y2="83.13" stroke="#111" stroke-width="0.8"/>
<line x1="447.04" y1="82.73" x2="447.17" y2="84.37" stroke="#111" stroke-width="0.8"/>
<line x1="451.13" y1="82.35" x2="451.25" y2="85.53" stroke="#111" stroke-width="0.8"/>
<line x1="455.63" y1="82.83" x2="455.88" y2="85.35" stroke="#111" stroke-width="0.8"/>
<line x1="458.73" y1="82.19" x2="458.68" y2="83.22" stroke="#111" stroke-width="0.8"/>
<line x1="455.24" y1="81.92" x2="455.55" y2="83.6" stroke="#111" stroke-width="0.8"/>
<line x1="451.68" y1="82.06" x2="451.41" y2="83.66" stroke="#111" stroke-width="0.8"/>
<line x1="447.49" y1="83.96" x2="447.11" y2="86.07" stroke="#111" stroke-width="0.8"/>
<line x1="458.16" y1="81.46" x2="458.51" y2="83.42" stroke="#111" stroke-width="0.8"/>
<line x1="467.54" y1="80.83" x2="467.54" y2="83.5" stroke="#111" stroke-width="0.8"/>
<line x1="448.69" y1="82.91" x2="448.91" y2="85.65" stroke="#111" stroke-width="0.8"/>
<line x1="462.18" y1="82.48" x2="462.35" y2="84.19" stroke="#111" stroke-width="0.8"/>
<line x1="464.18" y1="82.14" x2="464.48" y2="85.03" stroke="#111" stroke-width="0.8"/>
<line x1="454.15" y1="82.26" x2="453.84" y2="84.55" stroke="#111" stroke-width="0.8"/>
<line x1="453.47" y1="82.33" x2="453.22" y2="83.62" stroke="#111" stroke-width="0.8"/>
<line x1="460.71" y1="81.42" x2="460.94" y2="82.36" stroke="#111" stroke-width="0.8"/>
<line x1="466.87" y1="80.59" x2="466.53" y2="83.03" stroke="#111" stroke-width="0.8"/>
<line x1="451.63" y1="82.16" x2="451.68" y2="84.5" stroke="#111" stroke-width="0.8"/>
<line x1="464.26" y1="81.66" x2="464.56" y2="84.27" stroke="#111" stroke-width="0.8"/>
<line x1="459.25" y1="81.43" x2="459.54" y2="82.62" stroke="#111" stroke-width="0.8"/>
<line x1="464.23" y1="81.64" x2="464.48" y2="84.72" stroke="#111" stroke-width="0.8"/>
<line x1="455.46" y1="81.77" x2="455.8" y2="83.6" stroke="#111" stroke-width="0.8"/>
<line x1="465.67" y1="80.33" x2="465.63" y2="81.14" stroke="#111" stroke-width="0.8"/>
<line x1="466.11" y1="81.85" x2="465.76" y2="84.66" stroke="#111" stroke-width="0.8"/>
<line x1="451.33" y1="83.29" x2="451.18" y2="85.14" stroke="#111" stroke-width="0.8"/>
<line x1="467.17" y1="80.18" x2="467.48" y2="82.15" stroke="#111" stroke-width="0.8"/>
<line x1="461.72" y1="82.35" x2="461.76" y2="83.8" stroke="#111" stroke-width="0.8"/>
<ellipse cx="426" cy="91" rx="1.8" ry="1.6" fill="#111"/>
<ellipse cx="431" cy="89.5" rx="1.6" ry="2" fill="#111"/>
<ellipse cx="436" cy="89" rx="1.5" ry="1.7" fill="#111"/>
<ellipse cx="441" cy="87.3" rx="1.3" ry="1.5" fill="#111"/>
<ellipse cx="445" cy="86.5" rx="1.2" ry="1.2" fill="#111"/>
<line x1="455.8" y1="87.3" x2="455.8" y2="95.1" stroke="#111" stroke-width="1.3"/>
<line x1="463.8" y1="86.3" x2="463.8" y2="89.3" stroke="#111" stroke-width="1.0"/>
<ellipse cx="427.3" cy="93.5" rx="1.8" ry="2.6" fill="none" stroke="#111" stroke-width="1.1"/>
<path d="M76.8 644 L77.8 642.6 L79.2 643.1 L80.5 642.8 L82.1 642.3 L83.1 641.2 L83.2 646" fill="none" stroke="#111" stroke-width="1.4" stroke-linejoin="round" stroke-linecap="round" />
<line x1="83.1" y1="642" x2="83.1" y2="653.7" stroke="#777" stroke-width="0.9"/>
<line x1="88.4" y1="634.4" x2="88.4" y2="656.5" stroke="#666" stroke-width="0.9"/>
<line x1="88.6" y1="646" x2="88.6" y2="654" stroke="#222" stroke-width="1.3"/>
<line x1="86.5" y1="647" x2="86.5" y2="672" stroke="#aaa" stroke-width="1.0"/>
<line x1="95.1" y1="651.7" x2="95.1" y2="656" stroke="#555" stroke-width="0.9"/>
<line x1="98.6" y1="643.7" x2="98.6" y2="659" stroke="#888" stroke-width="0.9"/>
<path d="M87.86 653.43 L88.7 655.21 L89.82 655.79 L90.82 656.38 L91.77 657.58 L91.78 660.66 L92.8 659.74 L93.6 659.05 L95.07 659.47 L96.55 659.52 L97.87 659.18 L99.26 658.87 L100.6 657.92 L101.57 658.03 L102.19 659.17" fill="none" stroke="#111" stroke-width="1.8" stroke-linejoin="round" stroke-linecap="round" />
<line x1="101.6" y1="657.5" x2="101.6" y2="681" stroke="#111" stroke-width="1.9"/>
<line x1="101" y1="680" x2="101" y2="694.6" stroke="#999" stroke-width="1.0"/>
<circle cx="64.8" cy="632" r="0.8" fill="#333"/>
<path d="M101.7 658.5 L102.5 663 L103.2 666.7 L104.1 671.5" fill="none" stroke="#111" stroke-width="1.8" stroke-linejoin="round" stroke-linecap="round" />
<path d="M104.1 671.59 L104.59 672.47 L105.19 673.16 L106.1 673.37 L107.06 673.01 L107.95 672.75 L108.76 672.12 L109.5 671.54 L110.17 670.67 L110.77 669.99 L111.33 669.02 L111.86 668.32 L112.36 667.44 L112.85 666.47 L113.32 665.63 L113.77 664.78 L114.21 663.73 L114.61 662.92 L114.98 662.07 L115.31 660.97 L115.62 660.18 L115.91 659.18 L116.19 658.27 L116.46 657.16 L116.72 656.12 L116.97 655.36 L117.21 654.39 L117.45 653.31 L117.7 652.24 L117.96 651.3 L118.22 650.47 L118.48 649.4 L118.74 648.63 L119.01 647.56 L119.28 646.48 L119.56 645.66 L119.85 644.61 L120.16 643.84 L120.49 642.89 L120.83 641.83 L121.17 640.93 L121.49 639.99 L121.78 639.07 L122.06 638.16 L122.32 636.91 L122.57 636.04 L122.82 635.14 L123.06 634.09 L123.31 633.2 L123.55 632.08 L123.78 631.35 L124.02 630.27 L124.26 629.17 L124.5 628.37 L124.74 627.29 L124.99 626.29 L125.25 625.41 L125.51 624.34 L125.76 623.39 L126.02 622.62 L126.27 621.61 L126.51 620.43 L126.73 619.68 L126.95 618.48 L127.15 617.6 L127.35 616.79 L127.55 615.72 L127.75 614.65 L127.96 613.69 L128.18 612.72 L128.41 611.67 L128.65 610.96 L128.89 609.7 L129.13 608.84 L129.38 607.97 L129.62 606.9 L129.86 606.1 L130.1 604.91 L130.35 604.16 L130.59 603.17 L130.84 602.13 L131.08 601.23 L131.32 600.12 L131.56 599.27 L131.78 598.28 L132 597.22 L132.21 596.23 L132.41 595.32 L132.6 594.25 L132.78 593.17 L132.96 592.38 L133.13 591.25 L133.3 590.33 L133.46 589.44 L133.62 588.27 L133.78 587.23 L133.94 586.28 L134.1 585.43 L134.26 584.37 L134.43 583.36 L134.6 582.43 L134.77 581.59 L134.94 580.4 L135.11 579.46 L135.29 578.62 L135.47 577.55 L135.66 576.47 L135.85 575.55 L136.06 574.57 L136.27 573.49 L136.48 572.59 L136.7 571.59 L136.93 570.77 L137.15 569.65 L137.38 568.77 L137.6 567.89 L137.82 566.9 L138.04 565.76 L138.25 564.85 L138.47 563.79 L138.69 562.84 L138.91 561.89 L139.12 561.01 L139.34 560.07 L139.56 558.91 L139.78 557.84 L140 557 L140.21 555.91 L140.43 554.92 L140.65 554.17 L140.87 553 L141.09 552.2 L141.32 551.12 L141.55 550.32 L141.8 549.33 L142.05 548.12 L142.31 547.2 L142.57 546.46 L142.83 545.39 L143.08 544.37 L143.32 543.5 L143.56 542.54 L143.78 541.47 L144 540.49 L144.22 539.4 L144.43 538.5 L144.64 537.46 L144.86 536.63 L145.07 535.64 L145.28 534.53 L145.5 533.7 L145.71 532.56 L145.94 531.59 L146.17 530.78 L146.41 529.75 L146.65 528.91 L146.89 527.86 L147.14 526.91 L147.38 525.77 L147.62 525.01 L147.85 523.82 L148.09 523 L148.33 522.12 L148.57 521.15 L148.81 520.17 L149.05 519.07 L149.3 518.17 L149.55 517.24 L149.79 516.07 L150.04 515.34 L150.29 514.37 L150.55 513.26 L150.8 512.39 L151.06 511.33 L151.32 510.31 L151.58 509.47 L151.85 508.32 L152.12 507.58 L152.39 506.67 L152.65 505.49 L152.9 504.72 L153.14 503.49 L153.35 502.75 L153.54 501.59 L153.72 500.81 L153.9 499.67 L154.09 498.84 L154.29 497.59 L154.54 496.64 L154.81 495.89 L155.11 494.89 L155.43 493.91 L155.76 492.81 L156.11 491.92 L156.47 491.05 L156.84 490.02 L157.21 489.37 L157.57 488.37 L157.9 487.48 L158.23 486.47 L158.52 485.4 L158.8 484.36 L159.07 483.59 L159.32 482.44 L159.58 481.61 L159.83 480.61 L160.08 479.65 L160.34 478.56 L160.6 477.6 L160.87 476.77 L161.15 475.66 L161.43 474.85 L161.71 473.78 L162 472.86 L162.3 471.87 L162.61 471.04 L162.94 470.04 L163.28 469.05 L163.63 468.11 L163.99 467.28 L164.36 466.46 L164.73 465.39 L165.12 464.38 L165.5 463.51 L165.89 462.56 L166.28 461.74 L166.67 460.88 L167.06 459.9 L167.46 458.87 L167.86 457.99 L168.26 457.09 L168.66 456.2 L169.07 455.27 L169.47 454.53 L169.87 453.48 L170.27 452.6 L170.67 451.7 L171.07 450.76 L171.48 449.9 L171.91 448.87 L172.35 448.05 L172.82 447.26 L173.29 446.14 L173.79 445.41 L174.3 444.48 L174.81 443.52 L175.34 442.67 L175.88 442.04 L176.42 441.01 L176.99 440.36 L177.55 439.35 L178.12 438.61 L178.5 437.96" fill="none" stroke="#222" stroke-width="1.05" stroke-linejoin="round" stroke-linecap="round" />
<path d="M175.4 442.56 L175.97 441.86 L176.55 440.98 L177.11 440.18 L177.67 439.32 L178.21 438.72 L178.71 437.46 L179.18 436.95 L179.6 435.42 L180.03 434.81 L180.47 433.95 L180.96 432.88 L181.51 432.65 L182.1 431.41 L182.74 431.11 L183.4 430.53 L184.08 429.1 L184.79 429.03 L185.51 428.25 L186.24 427.43 L186.97 426.1 L187.73 425.88 L188.56 425.51 L189.47 424.76 L190.41 424.34 L191.36 424.12 L192.31 423.77 L193.27 424 L194.23 423.27 L195.18 423.06 L196.14 423 L197.1 423.01 L198.05 422.04 L198.99 421.47 L199.94 422.06 L200.88 421.59 L201.82 421.2 L202.74 420.56 L203.67 419.89 L204.63 419.54 L205.62 419.62 L206.61 419.87 L207.6 419.66 L208.58 420.47 L209.57 420.64 L210.57 420.01 L211.56 420.91 L212.56 420.62 L213.56 421.12 L214.56 420.77 L215.54 421.23 L216.53 421.07 L217.51 421.42 L218.49 421.5 L218.5 421.02" fill="none" stroke="#111" stroke-width="2.0" stroke-linejoin="round" stroke-linecap="round" />
<line x1="192.52" y1="423.27" x2="192.25" y2="425.38" stroke="#111" stroke-width="0.9"/>
<line x1="192.1" y1="423.51" x2="192.44" y2="424.94" stroke="#111" stroke-width="0.9"/>
<line x1="217.88" y1="420.72" x2="217.91" y2="423.28" stroke="#111" stroke-width="0.9"/>
<line x1="204.51" y1="418.28" x2="204.91" y2="420.21" stroke="#111" stroke-width="0.9"/>
<line x1="218.43" y1="421.17" x2="218.06" y2="422.69" stroke="#111" stroke-width="0.9"/>
<line x1="200.72" y1="421.17" x2="200.46" y2="422.96" stroke="#111" stroke-width="0.9"/>
<line x1="196.85" y1="422.45" x2="197.19" y2="424.47" stroke="#111" stroke-width="0.9"/>
<line x1="190.77" y1="424.35" x2="190.72" y2="426.49" stroke="#111" stroke-width="0.9"/>
<line x1="200.45" y1="421.43" x2="200.84" y2="423.55" stroke="#111" stroke-width="0.9"/>
<line x1="212.91" y1="420.33" x2="212.99" y2="421.62" stroke="#111" stroke-width="0.9"/>
<line x1="218.52" y1="420.02" x2="218.13" y2="422.03" stroke="#111" stroke-width="0.9"/>
<line x1="198.52" y1="420.83" x2="198.89" y2="421.81" stroke="#111" stroke-width="0.9"/>
<line x1="215.65" y1="419.82" x2="215.39" y2="421.62" stroke="#111" stroke-width="0.9"/>
<line x1="199.76" y1="420.25" x2="199.97" y2="422.1" stroke="#111" stroke-width="0.9"/>
<line x1="218.38" y1="421.09" x2="218.61" y2="424.68" stroke="#111" stroke-width="0.9"/>
<line x1="216.62" y1="420.25" x2="216.65" y2="422.52" stroke="#111" stroke-width="0.9"/>
<line x1="212.48" y1="420.61" x2="212.75" y2="423.76" stroke="#111" stroke-width="0.9"/>
<line x1="184.96" y1="427" x2="184.63" y2="428.74" stroke="#111" stroke-width="0.9"/>
<line x1="204.3" y1="418.96" x2="204.59" y2="420.39" stroke="#111" stroke-width="0.9"/>
<line x1="209.51" y1="419.37" x2="209.28" y2="422.91" stroke="#111" stroke-width="0.9"/>
<line x1="185.87" y1="426.46" x2="185.9" y2="428.21" stroke="#111" stroke-width="0.9"/>
<line x1="218.37" y1="420.25" x2="218.68" y2="421.88" stroke="#111" stroke-width="0.9"/>
<line x1="200.85" y1="419.93" x2="200.96" y2="421.4" stroke="#111" stroke-width="0.9"/>
<line x1="211.47" y1="418.1" x2="211.44" y2="421.58" stroke="#111" stroke-width="0.9"/>
<line x1="184.39" y1="427.82" x2="184.54" y2="429.78" stroke="#111" stroke-width="0.9"/>
<line x1="203.51" y1="419.65" x2="203.88" y2="420.9" stroke="#111" stroke-width="0.9"/>
<line x1="208.63" y1="419.5" x2="208.81" y2="421.64" stroke="#111" stroke-width="0.9"/>
<line x1="184.59" y1="427.9" x2="184.41" y2="429.95" stroke="#111" stroke-width="0.9"/>
<line x1="218.55" y1="420.96" x2="218.47" y2="424.16" stroke="#111" stroke-width="0.9"/>
<line x1="197.51" y1="421.4" x2="197.56" y2="423.25" stroke="#111" stroke-width="0.9"/>
<line x1="208.01" y1="419.06" x2="207.93" y2="421.94" stroke="#111" stroke-width="0.9"/>
<line x1="195.36" y1="422.58" x2="194.96" y2="423.59" stroke="#111" stroke-width="0.9"/>
<line x1="214.36" y1="418.63" x2="214.29" y2="419.58" stroke="#111" stroke-width="0.9"/>
<line x1="210.78" y1="418.69" x2="210.42" y2="420.26" stroke="#111" stroke-width="0.9"/>
<line x1="216.57" y1="420.58" x2="216.17" y2="424.05" stroke="#111" stroke-width="0.9"/>
<line x1="186.53" y1="426.05" x2="186.56" y2="428.1" stroke="#111" stroke-width="0.9"/>
<line x1="188.95" y1="425.1" x2="188.77" y2="427.08" stroke="#111" stroke-width="0.9"/>
<line x1="216.44" y1="420.06" x2="216.04" y2="422.73" stroke="#111" stroke-width="0.9"/>
<line x1="199.23" y1="421.54" x2="199.46" y2="422.51" stroke="#111" stroke-width="0.9"/>
<line x1="203.87" y1="419.78" x2="204.21" y2="421.56" stroke="#111" stroke-width="0.9"/>
<line x1="205.52" y1="419.37" x2="205.25" y2="422.57" stroke="#111" stroke-width="0.9"/>
<line x1="204.34" y1="419.17" x2="204.06" y2="421.44" stroke="#111" stroke-width="0.9"/>
<line x1="198.33" y1="420.91" x2="198.68" y2="423.07" stroke="#111" stroke-width="0.9"/>
<line x1="200.06" y1="420.07" x2="200.45" y2="421.06" stroke="#111" stroke-width="0.9"/>
<line x1="201.74" y1="420.37" x2="202.03" y2="422.22" stroke="#111" stroke-width="0.9"/>
<line x1="205.13" y1="418.54" x2="205.51" y2="421.64" stroke="#111" stroke-width="0.9"/>
<line x1="196.47" y1="422.58" x2="196.83" y2="424.16" stroke="#111" stroke-width="0.9"/>
<line x1="186.97" y1="425" x2="187.34" y2="426.13" stroke="#111" stroke-width="0.9"/>
<line x1="212.15" y1="418.39" x2="211.92" y2="419.64" stroke="#111" stroke-width="0.9"/>
<line x1="212.54" y1="418.12" x2="212.52" y2="421.18" stroke="#111" stroke-width="0.9"/>
<line x1="202.45" y1="419.13" x2="202.06" y2="421.26" stroke="#111" stroke-width="0.9"/>
<line x1="194.51" y1="421.89" x2="194.53" y2="423.95" stroke="#111" stroke-width="0.9"/>
<line x1="194.61" y1="421.96" x2="194.36" y2="423.51" stroke="#111" stroke-width="0.9"/>
<line x1="211.29" y1="417.99" x2="211.5" y2="420.7" stroke="#111" stroke-width="0.9"/>
<line x1="203.52" y1="419.43" x2="203.15" y2="421.04" stroke="#111" stroke-width="0.9"/>
<line x1="198.41" y1="421.74" x2="198.06" y2="422.8" stroke="#111" stroke-width="0.9"/>
<line x1="184.65" y1="427.33" x2="184.3" y2="428.98" stroke="#111" stroke-width="0.9"/>
<line x1="199.29" y1="420.8" x2="199.05" y2="423.07" stroke="#111" stroke-width="0.9"/>
<line x1="200.82" y1="419.86" x2="200.88" y2="421.88" stroke="#111" stroke-width="0.9"/>
<line x1="201.09" y1="421.18" x2="201.36" y2="423.07" stroke="#111" stroke-width="0.9"/>
<line x1="184.92" y1="427" x2="184.93" y2="428.07" stroke="#111" stroke-width="0.9"/>
<line x1="201.5" y1="420.64" x2="201.7" y2="422.65" stroke="#111" stroke-width="0.9"/>
<line x1="210.16" y1="418.56" x2="210.25" y2="420.76" stroke="#111" stroke-width="0.9"/>
<line x1="210.54" y1="418.05" x2="210.29" y2="420.86" stroke="#111" stroke-width="0.9"/>
<line x1="209.34" y1="418.28" x2="209.55" y2="421.25" stroke="#111" stroke-width="0.9"/>
<line x1="206.63" y1="418.6" x2="206.28" y2="420.04" stroke="#111" stroke-width="0.9"/>
<line x1="210.8" y1="420.5" x2="210.53" y2="421.41" stroke="#111" stroke-width="0.9"/>
<line x1="196.22" y1="422.92" x2="196" y2="425.21" stroke="#111" stroke-width="0.9"/>
<line x1="211.44" y1="420.28" x2="211.83" y2="422.97" stroke="#111" stroke-width="0.9"/>
<line x1="190.92" y1="423.71" x2="190.84" y2="425.57" stroke="#111" stroke-width="0.9"/>
<path d="M203.5 419.16 L204.3 417.4 L205.1 418.68 L205.9 418.22 L206.7 419.09 L207.5 418.07 L208.3 419.05 L209.1 417.6 L209.9 419.19 L210.7 418.08 L211.5 417.65 L212.3 417.96 L213.1 418.5 L213.9 417.36 L214.7 418.04 L215.5 417.32 L216.3 417.43 L217.1 417.62 L217.9 417.74 L218.7 417.82 L219 423.65 L218.2 422.99 L217.4 423.69 L216.6 423.71 L215.8 423.66 L215 423.7 L214.2 423.02 L213.4 423.13 L212.6 423.44 L211.8 422.82 L211 422.09 L210.2 422.69 L209.4 422.66 L208.6 422.01 L207.8 421.82 L207 421.92 L206.2 422.75 L205.4 422.9 L204.6 422.58 L203.8 422.14 Z" fill="#111"/>
<line x1="219" y1="418.7" x2="219" y2="429.5" stroke="#111" stroke-width="1.2"/>
<path d="M104.1 671.34 L104.17 672.18 L104.26 673.63 L104.4 674.1 L104.54 675.51 L104.68 676.34 L104.83 677.06 L105.02 678.44 L105.3 678.98 L105.68 680.25 L106.22 680.76 L106.88 681.53 L107.65 682.47 L108.57 683.21 L109.54 682.47 L110.42 682.09 L111.23 681.87 L111.99 681.5 L112.71 680.48 L113.41 679.6 L114.09 679.39 L114.78 677.83 L115.48 677.85 L116.2 676.64 L116.92 675.82 L117.64 675.1 L118.33 674.55 L118.99 674.25 L119.61 672.9 L120.21 672.45 L120.79 671.7 L121.37 670.64 L121.95 669.99 L122.54 668.74 L123.14 667.94 L123.74 667.27 L124.33 666.88 L124.89 665.83 L125.44 664.89 L125.97 664.29 L126.48 663.31 L126.99 662.31 L127.5 661.9 L128.04 660.97 L128.62 659.74 L129.22 659.24 L129.81 658.39 L130.35 657.87 L130.86 656.88 L131.35 655.6 L131.8 655.33 L132.21 653.65 L132.59 652.99 L132.93 652.36 L133.26 650.87 L133.57 650.22 L133.88 648.87 L134.18 648.48 L134.47 647.61 L134.76 646.48 L135.06 645.8 L135.2 644.83" fill="none" stroke="#111" stroke-width="1.9" stroke-linejoin="round" stroke-linecap="round" />
<path d="M135.2 645 L135.9 650.4 L136.3 661.9 L137 658 L138.3 654.2" fill="none" stroke="#111" stroke-width="1.6" stroke-linejoin="round" stroke-linecap="round" />
<path d="M137.44 653.92 L138.54 648.82 L139.44 649.72 L140.34 653.12 Z M138.74 650.56 L139.84 645.38 L140.74 646.28 L141.64 649.76 Z M140.13 647.24 L141.23 641.96 L142.13 642.86 L143.03 646.44 Z M141.64 643.97 L142.74 637.23 L143.64 638.13 L144.54 643.17 Z M143.17 640.71 L144.27 635.62 L145.17 636.52 L146.07 639.91 Z M144.74 637.47 L145.84 631.88 L146.74 632.78 L147.64 636.67 Z M146.4 634.28 L147.5 629.19 L148.4 630.09 L149.3 633.48 Z M148.19 631.16 L149.29 626.16 L150.19 627.06 L151.09 630.36 Z M150.05 628.08 L151.15 622.82 L152.05 623.72 L152.95 627.28 Z M151.86 624.96 L152.96 618.97 L153.86 619.87 L154.76 624.16 Z M153.64 621.83 L154.74 614.31 L155.64 615.21 L156.54 621.03 Z M155.39 618.69 L156.49 611.37 L157.39 612.27 L158.29 617.89 Z M157.05 615.49 L158.15 607.98 L159.05 608.88 L159.95 614.69 Z M158.66 612.28 L159.76 606.6 L160.66 607.5 L161.56 611.48 Z M160.28 609.06 L161.38 603.35 L162.28 604.25 L163.18 608.26 Z M162.02 605.91 L163.12 600.16 L164.02 601.06 L164.92 605.11 Z M164 602.9 L165.1 595.07 L166 595.97 L166.9 602.1 Z M166.1 599.98 L167.2 592.77 L168.1 593.67 L169 599.18 Z M168.15 597.02 L169.25 589.42 L170.15 590.32 L171.05 596.22 Z M170.13 594.01 L171.23 585.49 L172.13 586.39 L173.03 593.21 Z M172.04 590.96 L173.14 582.43 L174.04 583.33 L174.94 590.16 Z M173.88 587.87 L174.98 579.63 L175.88 580.53 L176.78 587.07 Z M175.67 584.74 L176.77 576.98 L177.67 577.88 L178.57 583.94 Z M177.46 581.62 L178.56 573.23 L179.46 574.13 L180.36 580.82 Z M179.26 578.5 L180.36 569.5 L181.26 570.4 L182.16 577.7 Z M181.06 575.38 L182.16 567.47 L183.06 568.37 L183.96 574.58 Z M182.87 572.28 L183.97 564.06 L184.87 564.96 L185.77 571.48 Z M184.71 569.18 L185.81 560.58 L186.71 561.48 L187.61 568.38 Z M186.58 566.1 L187.68 559.45 L188.58 560.35 L189.48 565.3 Z M188.48 563.05 L189.58 554.16 L190.48 555.06 L191.38 562.25 Z M190.42 560.01 L191.52 552.14 L192.42 553.04 L193.32 559.21 Z M192.45 557.04 L193.55 548.94 L194.45 549.84 L195.35 556.24 Z M194.59 554.14 L195.69 543.66 L196.59 544.56 L197.49 553.34 Z M196.85 551.34 L197.95 544.14 L198.85 545.04 L199.75 550.54 Z M199.23 548.65 L200.33 537.69 L201.23 538.59 L202.13 547.85 Z M201.68 546 L202.78 534.75 L203.68 535.65 L204.58 545.2 Z M204.18 543.42 L205.28 532.19 L206.18 533.09 L207.08 542.62 Z M206.78 540.93 L207.88 530.94 L208.78 531.84 L209.68 540.13 Z M209.46 538.52 L210.56 530.65 L211.46 531.55 L212.36 537.72 Z M212.22 536.21 L213.32 526.26 L214.22 527.16 L215.12 535.41 Z M214.84 533.74 L215.94 521.96 L216.84 522.86 L217.74 532.94 Z" fill="#111"/>
<path d="M138.3 655.09 L138.51 653.99 L138.73 654.24 L138.94 653.5 L139.15 653.2 L139.36 651.68 L139.58 652.01 L139.8 650.95 L140.01 650.03 L140.24 649.51 L140.46 648.74 L140.69 649.3 L140.92 647.69 L141.15 647.83 L141.38 646.74 L141.63 646.19 L141.87 645.78 L142.12 645.93 L142.37 644.29 L142.63 644.2 L142.88 643.57 L143.14 643.25 L143.39 642.9 L143.65 642.7 L143.9 641.83 L144.16 641.59 L144.41 641.09 L144.67 640.45 L144.93 638.81 L145.19 638.32 L145.45 638.42 L145.71 637.43 L145.97 637.12 L146.24 636.82 L146.51 636.28 L146.78 636.07 L147.05 635.55 L147.33 634.24 L147.61 634.21 L147.9 633.54 L148.18 632.97 L148.48 632.85 L148.78 632.31 L149.08 631.78 L149.39 630.81 L149.69 629.88 L150 630.06 L150.31 629.09 L150.62 628.65 L150.93 627.85 L151.24 627.3 L151.55 627.3 L151.86 627.5 L152.16 626.5 L152.46 625.48 L152.76 625.93 L153.06 624.36 L153.36 624.51 L153.65 623.14 L153.95 623.86 L154.25 623.27 L154.54 622.65 L154.84 621.49 L155.14 621.07 L155.43 620.6 L155.72 620.68 L156.02 619.68 L156.31 618.69 L156.6 619.08 L156.89 617.88 L157.17 617.78 L157.46 617.55 L157.74 616.78 L158.01 615.34 L158.28 615.78 L158.55 614.73 L158.82 614.95 L159.08 613.55 L159.35 612.73 L159.62 612.11 L159.89 612.81 L160.16 611.48 L160.44 610.36 L160.7 610.51 L160.97 610.61 L161.24 609.03 L161.51 609.49 L161.78 609.05 L162.05 607.41 L162.33 606.88 L162.62 606.27 L162.91 605.68 L163.21 605.02 L163.52 604.81 L163.83 605.12 L164.16 604.1 L164.48 603.57 L164.82 603.37 L165.16 602.19 L165.5 602.59 L165.85 601.37 L166.2 601.25 L166.55 600.34 L166.9 599.91 L167.25 599.27 L167.6 599.13 L167.95 598.7 L168.29 597.74 L168.64 598.27 L168.98 597.08 L169.32 597.06 L169.65 595.89 L169.98 595.18 L170.32 595.99 L170.65 594.46 L170.98 593.64 L171.3 594.42 L171.63 593.21 L171.95 592.11 L172.27 592.5 L172.59 591.56 L172.91 591.94 L173.22 591.22 L173.54 590.49 L173.85 590.03 L174.16 588.98 L174.47 589.3 L174.77 588.81 L175.08 587.33 L175.38 586.54 L175.68 586.04 L175.98 586.16 L176.28 585.77 L176.58 585.52 L176.87 585.14 L177.17 583.88 L177.47 583.44 L177.77 582.86 L178.06 583.05 L178.36 581.57 L178.66 580.92 L178.96 580.49 L179.26 580.99 L179.56 579.42 L179.86 580.05 L180.16 578.49 L180.46 578.14 L180.76 577.35 L181.06 577.95 L181.36 576.17 L181.66 575.77 L181.96 575.99 L182.26 575.18 L182.56 574.53 L182.86 574.1 L183.16 574.2 L183.46 572.64 L183.77 572.69 L184.07 571.68 L184.37 571.57 L184.68 570.9 L184.98 570.42 L185.29 569.76 L185.6 568.83 L185.9 568.58 L186.21 568.81 L186.52 567.81 L186.83 566.93 L187.14 566.39 L187.45 566.74 L187.77 565.48 L188.08 566.02 L188.4 564.93 L188.71 563.77 L189.03 563.62 L189.34 563.53 L189.66 563.54 L189.98 562.93 L190.3 561.46 L190.62 561.49 L190.94 560.93 L191.27 560.85 L191.59 559.36 L191.92 559.34 L192.25 558.92 L192.58 558.29 L192.92 557.78 L193.26 556.65 L193.61 556.37 L193.95 556.98 L194.3 555.58 L194.65 556.02 L195.01 554.2 L195.36 553.71 L195.73 554.42 L196.09 553.16 L196.46 553.46 L196.83 551.8 L197.2 552.18 L197.58 552.03 L197.96 550.77 L198.35 551.14 L198.73 550.5 L199.13 550.2 L199.53 549.1 L199.93 548.4 L200.33 548.23 L200.73 547.7 L201.14 547.14 L201.54 547.61 L201.95 546.17 L202.36 546.36 L202.77 545.69 L203.18 545.26 L203.59 544.86 L204 544.43 L204.42 544.63 L204.84 543.81 L205.26 543.57 L205.68 542.37 L206.11 542.31 L206.54 542.19 L206.97 541.73 L207.4 541.49 L207.84 539.98 L208.28 539.67 L208.72 540.26 L209.17 539.27 L209.61 538.62 L210.06 538.53 L210.51 537.75 L210.96 538.16 L211.42 537.32 L211.88 537.51 L212.34 536.62 L212.8 536.97 L213.26 535.25 L213.72 536.01 L214.17 534.55 L214.61 534.69 L215.05 533.93 L215.48 533.75 L215.91 534.01 L216.34 532.66 L216.77 532.48 L217.19 532.24 L217.62 531.22 L218.04 531.38 L218.3 530.83" fill="none" stroke="#111" stroke-width="1.2" stroke-linejoin="round" stroke-linecap="round" />
<path d="M138.3 654.2 L139.08 652.26 L140.2 649.47 L141.47 646.37 L142.7 643.5 L143.87 640.93 L145.07 638.39 L146.29 635.94 L147.5 633.6 L148.7 631.44 L149.9 629.41 L151.1 627.43 L152.3 625.4 L153.46 623.39 L154.59 621.43 L155.77 619.33 L157.1 616.9 L158.64 613.91 L160.34 610.53 L162.07 607.16 L163.7 604.2 L165.21 601.81 L166.67 599.76 L168.07 597.87 L169.4 596 L170.61 594.17 L171.73 592.45 L172.83 590.7 L174 588.8 L175.26 586.67 L176.57 584.4 L177.89 582.08 L179.2 579.8 L180.4 577.71 L181.53 575.71 L182.77 573.56 L184.3 571 L186.22 567.79 L188.43 564.12 L190.75 560.39 L193 557 L195.15 554.04 L197.3 551.31 L199.45 548.75 L201.6 546.3 L203.78 543.97 L205.99 541.79 L208.17 539.71 L210.3 537.7 L212.54 535.61 L214.84 533.51 L216.88 531.68 L218.3 530.4" fill="none" stroke="#111" stroke-width="2.9" stroke-linejoin="round" stroke-linecap="round" />
<line x1="219.2" y1="518.5" x2="219.2" y2="531" stroke="#111" stroke-width="1.2"/>
<path d="M319.09 652.74 L319.14 644.34 L319.19 641.86 L319.23 642.03 L319.25 648.38 L319.32 647.72 L319.37 640.83 L319.57 640.91 L319.59 651.07 L319.68 641.72 L319.73 641.74 L319.81 651.66 L320 649.27 L320 642.55 L320.08 646.02 L320.1 644.75 L320.14 642.1 L320.35 647.02 L320.5 645.23 L320.55 641.7 L320.75 643.22 L320.99 640.23 L321.22 647.38 L321.27 646.63 L321.65 652.74 L321.67 640.43 L321.77 640.99 L321.92 645.01 L322.1 644.24 L322.13 638.26 L322.23 641.66 L322.25 650.77 L322.37 648.09 L322.4 647.3 L322.43 651.52 L322.69 643.89 L322.84 650.23 L323.15 644.74 L323.28 644.81 L323.74 640.19 L323.76 638.22 L323.93 649.17 L323.95 648.51 L324 642.82 L324.01 642.32 L324.04 638.07 L324.1 651.01 L324.17 652.47 L324.19 646.48 L324.24 639.9 L324.25 645.01 L324.29 645.58 L324.62 642.78 L324.83 643.16 L325.04 651.55 L325.28 648.35 L325.55 647.35 L325.62 642.61 L325.77 645.52 L325.86 649.06 L325.97 641.75 L326.06 642.36 L326.06 652.48 L326.36 639.94 L326.38 650.82 L326.73 645.68 L326.77 645.95 L326.81 649.81 L326.92 646.39 L326.99 643.24 L327 647.67 L327.63 652.99 L327.69 638.93 L327.92 642.42 L328.09 642.68 L328.18 652.74 L328.32 640.85 L328.33 644.56 L328.55 648.18 L328.93 652.7" fill="none" stroke="#111" stroke-width="0.8" stroke-linejoin="round" stroke-linecap="round" />
<path d="M319.5 642.5 L329 641 L329.5 652.5 L320 652 Z" fill="#111"/>
<line x1="318.7" y1="634.6" x2="318.7" y2="648" stroke="#777" stroke-width="0.9"/>
<line x1="326.9" y1="638.5" x2="326.9" y2="646" stroke="#333" stroke-width="0.9"/>
<line x1="325.6" y1="646" x2="325.6" y2="678.4" stroke="#555" stroke-width="1.3"/>
<line x1="327.1" y1="646" x2="327.1" y2="676" stroke="#222" stroke-width="1.6"/>
<path d="M328.8 651.9 L330.3 663.5 L331.7 673.1 L333.2 677.8 L334.8 679.6" fill="none" stroke="#111" stroke-width="1.8" stroke-linejoin="round" stroke-linecap="round" />
<path d="M334.8 679.29 L335.37 679.72 L335.92 679.95 L335.62 677.62 L336.12 679.6 L336.42 678.88 L336.86 678.92 L337.29 678.43 L337.75 677.94 L338.23 678.04 L337.93 675.33 L338.43 677.54 L338.72 676.98 L339.22 676.96 L339.73 676.7 L340.24 675.82 L340.74 676.21 L340.44 673.94 L340.94 676.25 L341.26 675.04 L341.79 675.02 L342.31 674.37 L342.83 674.56 L343.34 674.04 L343.04 672.53 L343.54 674.32 L343.84 674.42 L344.31 673.79 L344.77 673.07 L345.23 672.85 L345.67 672.08 L345.37 669.9 L345.87 672.98 L346.12 672.14 L346.56 671.23 L347 671.78 L347.43 670.48 L347.87 669.87 L347.57 668.47 L348.07 670.51 L348.3 670.41 L348.72 669.14 L349.15 668.62 L349.58 668.66 L350.01 667.76 L349.71 666.03 L350.21 668.5 L350.45 668.35 L350.88 668.01 L351.31 666.75 L351.73 666.98 L352.13 666.19 L351.83 663.48 L352.33 666.05 L352.52 665.68 L352.89 665.84 L353.25 664.25 L353.6 664.06 L353.95 663.58 L353.65 661.9 L354.15 664.4 L354.3 662.95 L354.65 663.22 L355.01 662.07 L355.38 662.32 L355.75 660.98 L355.45 659.86 L355.95 661.99 L356.13 660.36 L356.51 660.65 L356.89 659.66 L357.27 659.65 L357.65 658.86 L357.35 656.75 L357.85 659.43 L358.02 658.91 L358.37 657.67 L358.72 658.03 L359.07 656.83 L359.4 656.76 L359.1 654 L359.6 657.07 L359.74 656.19 L360.08 655.66 L360.43 654.76 L360.79 655.14 L361.15 654.33 L360.85 651.59 L361.35 654.79 L361.53 653.99 L361.92 653.05 L362.31 652.82 L362.71 652 L363.11 651.67 L362.81 649.14 L363.31 652.27 L363.5 651.09 L363.88 651.05 L364.25 650.44 L364.62 650.46 L364.99 650 L364.69 647.61 L365.19 649.47 L365.34 648.75 L365.7 648.71 L366.05 647.98 L366.39 647.1 L366.73 647.46 L366.43 644.71 L366.93 647.22 L367.07 646.1 L367.41 646 L367.74 645.77 L368.07 644.65 L368.41 644.2 L368.11 643.2 L368.61 644.5 L368.74 644.31 L369.07 643.93 L369.4 643.34 L369.74 642.46 L370.07 642 L369.77 640.76 L370.27 642.62 L370.41 641.72 L370.75 640.82 L371.09 640.23 L371.43 639.93 L371.77 639.57 L371.47 637.03 L371.97 639.56 L372.11 639.55 L372.46 638.4 L372.8 637.81 L373.14 637.88 L373.49 636.82 L373.19 634 L373.69 637.59 L373.83 637.03 L374.17 636.32 L374.52 636.22 L374.86 635.7 L375.21 634.85 L374.91 633.12 L375.41 635.12 L375.56 634.89 L375.9 633.5 L376.25 633.56 L376.6 632.37 L376.95 632.73 L376.65 629.9 L377.15 632.59 L377.3 631.96 L377.65 631.4 L378 631.08 L378.35 630.53 L378.7 629.66 L378.4 626.78 L378.9 629.81 L379.05 629.71 L379.4 628.84 L379.75 627.97 L380.1 627.69 L380.45 627.46 L380.15 625.8 L380.65 627.77 L380.8 627.52 L381.14 626.75 L381.49 626.07 L381.84 625.62 L382.18 625.01 L381.88 622.04 L382.38 625.38 L382.53 624.54 L382.88 624.34 L383.23 623.73 L383.58 622.56 L383.93 622.16 L383.63 620.37 L384.13 622.63 L384.28 622.33 L384.64 621.58 L385 621.36 L385.36 620.92 L385.73 620.73 L385.43 617.63 L385.93 620.2 L386.1 620.29 L386.47 619.04 L386.84 619.07 L387.22 617.99 L387.6 617.72 L387.3 615.03 L387.8 618.37 L387.98 617.91 L388.36 617.47 L388.74 616.46 L389.13 616.28 L389.51 615.82 L389.21 612.98 L389.71 615.92 L389.9 614.93 L390.28 614.55 L390.67 613.93 L391.06 613.26 L391.45 613.76 L391.15 610.61 L391.65 613.44 L391.83 613.02 L392.22 612.05 L392.61 611.38 L393 611.55 L393.38 610.64 L393.08 609.12 L393.58 611.14 L393.77 610.35 L394.15 610.53 L394.53 609.55 L394.92 609.62 L395.3 608.97 L395 605.67 L395.5 608.89 L395.68 607.75 L396.06 608.15 L396.45 606.83 L396.83 607.16 L397.21 606.89 L396.91 602.8 L397.41 606.82 L397.59 606.2 L397.97 605.38 L398.36 605.26 L398.74 604.72 L399.11 604.17 L398.81 601.42 L399.31 604.3 L399.49 603.85 L399.86 602.6 L400.24 602.77 L400.63 602.64 L401.02 601.19 L400.72 597.79 L401.22 602.19 L401.4 601.17 L401.79 600.86 L402.17 600.2 L402.55 599.53 L402.94 599.18 L402.64 595.55 L403.14 599.24 L403.33 598.88 L403.72 598.2 L404.11 598.18 L404.51 598.1 L404.91 597.27 L404.61 595.16 L405.11 597.7 L405.33 596.57 L405.75 596.68 L406.18 596.31 L406.61 595.2 L407.06 594.62 L406.76 591.1 L407.26 595.53 L407.51 594.29 L407.97 594.7 L408.43 594.23 L408.89 593.11 L409.35 592.61 L409.05 590.13 L409.55 593.14 L409.8 592.34 L410.26 591.71 L410.71 591.67 L411.16 590.93 L411.6 590.56 L411.3 589.09 L411.8 591.31 L412.03 590.81 L412.47 590.1 L412.89 589.51 L413.32 589.47 L413.74 589.13 L413.44 586.48 L413.94 589.21 L414.17 588.7 L414.59 588.72 L415.01 587.25 L415.43 587.73 L415.85 587.24 L415.55 584.31 L416.05 587.18 L416.27 586.91 L416.69 586.35 L417.11 585.92 L417.54 584.67 L417.96 584.42 L417.66 582.9 L418.16 585.32 L418.39 583.98 L418.81 583.78 L419.24 583.73 L419.66 583.46 L420.09 582.36 L419.79 578.57 L420.29 582.7 L420.51 582.64 L420.94 581.35 L421.36 581.86 L421.77 580.36 L422.19 580.93 L421.89 577.93 L422.39 580.82 L422.6 580.41 L423 580.13 L423.4 579.63 L423.79 579.07 L424.18 577.77 L423.88 573.88 L424.38 578.38 L424.56 577.45 L424.95 577.04 L425.32 577.15 L425.7 576.98 L426.07 576.05 L425.77 571.73 L426.27 576.15 L426.45 575.48 L426.82 574.44 L427.21 574.81 L427.59 574.59 L427.99 573.05 L427.69 570.39 L428.19 573.83 L428.39 572.6 L428.79 573.27 L429.21 572.52 L429.63 571.37 L430.06 572.01 L429.76 569.57 L430.26 571.71 L430.49 570.62 L430.93 570.33 L431.38 570.75 L431.82 570.19 L432.27 568.83 L431.97 565.42 L432.47 569.73 L432.72 569.52 L433.18 568.09 L433.63 568.21 L434.09 567.27 L434.54 567.58 L434.24 565.23 L434.74 568.05 L435 566.92 L435.45 567.26 L435.91 566.85 L436.37 566.26 L436.83 565.09 L436.53 560.8 L437.03 565.99 L437.29 565.4 L437.75 565.31 L438.22 564.45 L438.69 563.96 L439.16 564.02 L438.86 560.92 L439.36 563.78 L439.64 562.84 L440.12 563.36 L440.62 562.02 L441.12 562.02 L441.65 561.98 L441.35 558.28 L441.85 561.97 L442.19 562.12 L442.73 561.75 L443.29 560.86 L443.8 561" fill="none" stroke="#111" stroke-width="1.0" stroke-linejoin="round" stroke-linecap="round" />
<path d="M334.8 679.6 L335.04 679.51 L335.39 679.39 L335.8 679.23 L336.2 679 L336.58 678.7 L336.96 678.33 L337.38 677.92 L337.9 677.5 L338.54 677.05 L339.27 676.56 L340.05 676.07 L340.8 675.6 L341.53 675.18 L342.26 674.78 L342.98 674.37 L343.7 673.9 L344.4 673.36 L345.1 672.77 L345.8 672.14 L346.5 671.5 L347.22 670.83 L347.94 670.13 L348.67 669.42 L349.4 668.7 L350.12 668.01 L350.85 667.32 L351.57 666.6 L352.3 665.8 L353.03 664.89 L353.75 663.89 L354.48 662.88 L355.2 661.9 L355.93 660.99 L356.65 660.11 L357.37 659.23 L358.1 658.3 L358.83 657.29 L359.55 656.24 L360.28 655.19 L361 654.2 L361.73 653.3 L362.47 652.46 L363.2 651.64 L363.9 650.8 L364.54 649.99 L365.14 649.2 L365.77 648.34 L366.5 647.3 L367.36 646.04 L368.31 644.61 L369.33 643.08 L370.4 641.5 L371.54 639.85 L372.74 638.11 L373.98 636.34 L375.2 634.6 L376.4 632.91 L377.6 631.24 L378.8 629.57 L380 627.9 L381.22 626.18 L382.46 624.44 L383.66 622.75 L384.8 621.2 L385.82 619.87 L386.75 618.69 L387.68 617.54 L388.7 616.3 L389.84 614.93 L391.04 613.51 L392.28 612.05 L393.5 610.6 L394.75 609.1 L396.03 607.55 L397.25 606.08 L398.3 604.8 L399.07 603.85 L399.65 603.13 L400.23 602.42 L401 601.5 L402.03 600.27 L403.21 598.86 L404.49 597.39 L405.8 596 L407.16 594.73 L408.59 593.52 L410.05 592.29 L411.5 591 L412.94 589.61 L414.39 588.16 L415.85 586.68 L417.3 585.2 L418.75 583.75 L420.21 582.31 L421.66 580.84 L423.1 579.3 L424.53 577.63 L425.95 575.86 L427.37 574.12 L428.8 572.5 L430.24 571.06 L431.69 569.72 L433.15 568.45 L434.6 567.2 L436.11 565.91 L437.65 564.62 L439.12 563.45 L440.4 562.5 L441.5 561.82 L442.46 561.36 L443.25 561.04 L443.8 560.8" fill="none" stroke="#111" stroke-width="1.7" stroke-linejoin="round" stroke-linecap="round" />
<line x1="444.2" y1="559.8" x2="444.2" y2="566.2" stroke="#111" stroke-width="1.2"/>
<path d="M334.8 679.59 L335.64 680.09 L336.61 680.14 L337.59 680.24 L338.56 679.63 L339.52 679.55 L340.48 679.44 L341.46 678.9 L342.44 678.89 L343.42 678.73 L344.4 678.3 L345.37 678.19 L346.33 678.03 L347.26 677.57 L348.17 677.28 L349.07 676.61 L349.96 676.18 L350.84 675.65 L351.71 675.33 L352.59 675.01 L353.46 674.39 L354.33 673.97 L355.2 673.31 L356.05 672.93 L356.89 672.14 L357.73 671.67 L358.54 671.24 L359.34 670.66 L360.13 669.92 L360.91 669.16 L361.68 668.6 L362.45 667.94 L363.23 667.34 L364.02 666.93 L364.82 666.09 L365.62 665.77 L366.44 665.2 L367.26 664.29 L368.08 663.85 L368.9 663.32 L369.73 662.57 L370.55 662.17 L371.37 661.79 L372.19 660.9 L373.01 660.51 L373.81 659.73 L374.61 659.31 L375.4 658.83 L376.19 657.93 L376.97 657.22 L377.73 656.61 L378.5 656.15 L379.25 655.28 L379.99 654.64 L380.72 654.12 L381.44 653.6 L382.15 652.69 L382.85 651.97 L383.55 651.35 L384.25 650.41 L384.95 649.9 L385.65 649.02 L386.36 648.49 L387.07 647.93 L387.79 646.87 L388.51 646.37 L389.22 645.69 L389.93 644.8 L390.62 644.13 L391.31 643.7 L391.98 642.96 L392.65 641.86 L393.31 641.35 L393.96 640.69 L394.61 639.64 L395.25 639.02 L395.89 638.03 L396.53 637.38 L397.16 636.73 L397.79 635.92 L398.42 635.22 L399.04 634.16 L399.66 633.48 L400.27 632.9 L400.89 631.99 L401.5 631.15 L402.12 630.35 L402.74 629.8 L403.37 628.85 L403.99 627.85 L404.62 627.38 L405.25 626.42 L405.89 625.69 L406.52 624.83 L407.16 624.15 L407.79 623.33 L408.43 622.46 L409.07 621.91 L409.71 620.93 L410.34 620.43 L410.98 619.35 L411.61 618.88 L412.25 618.12 L412.9 617.24 L413.54 616.55 L414.2 615.62 L414.86 615.06 L415.53 614.2 L416.22 613.39 L416.92 612.97 L417.62 612.04 L418.33 611.32 L419.03 610.8 L419.73 609.89 L420.41 609.28 L421.09 608.34 L421.74 607.85 L422.39 606.86 L423.03 606.01 L423.67 605.61 L424.31 604.52 L424.95 604.06 L425.6 603.32 L426.26 602.42 L426.94 601.44 L427.62 600.73 L428.32 600.07 L429.02 599.43 L429.72 598.81 L430.43 598.25 L431.14 597.3 L431.85 596.51 L432.56 595.97 L433.26 595.09 L433.97 594.36 L434.68 593.84 L435.39 593.19 L436.09 592.24 L436.8 591.68 L437.51 591.08 L438.21 590.39 L438.92 589.53 L439.62 589.02 L440.33 588.03 L441.03 587.53 L441.73 586.84 L442.43 586.17 L443.13 585.3 L443.82 584.42 L444.49 583.66 L445.16 583.11 L445.82 582.21 L446.48 581.64 L447.14 580.68 L447.82 580.22 L448.51 579.28 L449.25 578.51 L449.99 577.91 L450.76 577.38 L451.52 576.78 L452.29 576.07 L453.04 575.32 L453.72 574.71 L454.2 574.08" fill="none" stroke="#111" stroke-width="1.5" stroke-linejoin="round" stroke-linecap="round" />
<line x1="344.3" y1="678.5" x2="344.5" y2="680.09" stroke="#111" stroke-width="0.9"/>
<line x1="347.44" y1="677.51" x2="347.64" y2="679.41" stroke="#111" stroke-width="0.9"/>
<line x1="350.4" y1="676.05" x2="350.6" y2="678.04" stroke="#111" stroke-width="0.9"/>
<line x1="353.29" y1="674.45" x2="353.49" y2="676.3" stroke="#111" stroke-width="0.9"/>
<line x1="356.13" y1="672.78" x2="356.33" y2="674.8" stroke="#111" stroke-width="0.9"/>
<line x1="358.86" y1="670.93" x2="359.06" y2="672.81" stroke="#111" stroke-width="0.9"/>
<line x1="361.45" y1="668.89" x2="361.65" y2="670.81" stroke="#111" stroke-width="0.9"/>
<line x1="364.02" y1="666.81" x2="364.22" y2="668.29" stroke="#111" stroke-width="0.9"/>
<line x1="366.69" y1="664.87" x2="366.89" y2="666.23" stroke="#111" stroke-width="0.9"/>
<line x1="369.4" y1="662.99" x2="369.6" y2="664.55" stroke="#111" stroke-width="0.9"/>
<line x1="372.11" y1="661.11" x2="372.31" y2="663.4" stroke="#111" stroke-width="0.9"/>
<line x1="374.77" y1="659.16" x2="374.97" y2="660.39" stroke="#111" stroke-width="0.9"/>
<line x1="377.35" y1="657.1" x2="377.55" y2="658.8" stroke="#111" stroke-width="0.9"/>
<line x1="379.84" y1="654.94" x2="380.04" y2="656.73" stroke="#111" stroke-width="0.9"/>
<line x1="382.22" y1="652.65" x2="382.42" y2="654.62" stroke="#111" stroke-width="0.9"/>
<line x1="384.53" y1="650.29" x2="384.73" y2="652.1" stroke="#111" stroke-width="0.9"/>
<line x1="386.86" y1="647.96" x2="387.06" y2="650.35" stroke="#111" stroke-width="0.9"/>
<line x1="389.22" y1="645.65" x2="389.42" y2="648.16" stroke="#111" stroke-width="0.9"/>
<line x1="391.52" y1="643.28" x2="391.72" y2="645.28" stroke="#111" stroke-width="0.9"/>
<line x1="393.7" y1="640.81" x2="393.9" y2="642.29" stroke="#111" stroke-width="0.9"/>
<line x1="395.83" y1="638.29" x2="396.03" y2="640.71" stroke="#111" stroke-width="0.9"/>
<line x1="397.92" y1="635.73" x2="398.12" y2="638.13" stroke="#111" stroke-width="0.9"/>
<line x1="399.97" y1="633.14" x2="400.17" y2="634.99" stroke="#111" stroke-width="0.9"/>
<line x1="402" y1="630.54" x2="402.2" y2="632.86" stroke="#111" stroke-width="0.9"/>
<line x1="404.06" y1="627.96" x2="404.26" y2="630.4" stroke="#111" stroke-width="0.9"/>
<line x1="406.14" y1="625.41" x2="406.34" y2="627.94" stroke="#111" stroke-width="0.9"/>
<line x1="408.24" y1="622.86" x2="408.44" y2="624.38" stroke="#111" stroke-width="0.9"/>
<line x1="410.34" y1="620.31" x2="410.54" y2="621.82" stroke="#111" stroke-width="0.9"/>
<line x1="412.45" y1="617.77" x2="412.65" y2="620.1" stroke="#111" stroke-width="0.9"/>
<line x1="414.59" y1="615.27" x2="414.79" y2="616.85" stroke="#111" stroke-width="0.9"/>
<line x1="416.85" y1="612.86" x2="417.05" y2="614.44" stroke="#111" stroke-width="0.9"/>
<line x1="419.17" y1="610.51" x2="419.37" y2="611.78" stroke="#111" stroke-width="0.9"/>
<line x1="421.41" y1="608.09" x2="421.61" y2="610.36" stroke="#111" stroke-width="0.9"/>
<line x1="423.54" y1="605.57" x2="423.74" y2="607.11" stroke="#111" stroke-width="0.9"/>
<line x1="425.67" y1="603.05" x2="425.87" y2="604.49" stroke="#111" stroke-width="0.9"/>
<line x1="427.9" y1="600.62" x2="428.1" y2="602.67" stroke="#111" stroke-width="0.9"/>
<line x1="430.22" y1="598.27" x2="430.42" y2="599.59" stroke="#111" stroke-width="0.9"/>
<line x1="432.56" y1="595.94" x2="432.76" y2="598.24" stroke="#111" stroke-width="0.9"/>
<line x1="434.89" y1="593.61" x2="435.09" y2="594.92" stroke="#111" stroke-width="0.9"/>
<line x1="437.23" y1="591.28" x2="437.43" y2="593.84" stroke="#111" stroke-width="0.9"/>
<line x1="439.55" y1="588.94" x2="439.75" y2="590.32" stroke="#111" stroke-width="0.9"/>
<line x1="441.87" y1="586.59" x2="442.07" y2="587.99" stroke="#111" stroke-width="0.9"/>
<line x1="444.16" y1="584.21" x2="444.36" y2="586.06" stroke="#111" stroke-width="0.9"/>
<line x1="446.35" y1="581.74" x2="446.55" y2="584.01" stroke="#111" stroke-width="0.9"/>
<line x1="448.59" y1="579.32" x2="448.79" y2="581.2" stroke="#111" stroke-width="0.9"/>
<line x1="451.06" y1="577.14" x2="451.26" y2="579.33" stroke="#111" stroke-width="0.9"/>
<line x1="453.52" y1="574.95" x2="453.72" y2="576.48" stroke="#111" stroke-width="0.9"/>
<line x1="454.2" y1="573.7" x2="454.2" y2="583.5" stroke="#111" stroke-width="1.1"/>
<path d="M81 1011.9 L81.2 1013.74 L81.48 1016.38 L81.79 1019.38 L82.1 1022.3 L82.4 1025.1 L82.7 1027.97 L83 1030.89 L83.3 1033.8 L83.58 1036.7 L83.85 1039.6 L84.12 1042.5 L84.4 1045.4 L84.68 1048.39 L84.96 1051.44 L85.26 1054.35 L85.6 1056.9 L85.95 1059.05 L86.31 1060.92 L86.74 1062.5 L87.3 1063.8 L88.02 1064.91 L88.87 1065.79 L89.81 1066.28 L90.8 1066.2 L91.87 1065.41 L93.03 1064.03 L94.22 1062.28 L95.4 1060.4 L96.55 1058.4 L97.7 1056.16 L98.85 1053.75 L100 1051.2 L101.15 1048.47 L102.3 1045.55 L103.45 1042.56 L104.6 1039.6 L105.75 1036.7 L106.9 1033.79 L108.05 1030.89 L109.2 1028 L110.39 1025 L111.62 1021.93 L112.78 1019.02 L113.8 1016.5 L114.62 1014.53 L115.29 1012.96 L115.9 1011.54 L116.5 1010 L117.1 1008.29 L117.67 1006.53 L118.23 1004.79 L118.8 1003.1 L119.4 1001.52 L120 1000 L120.6 998.48 L121.2 996.9 L121.78 995.22 L122.36 993.49 L122.93 991.74 L123.5 990 L124.09 988.24 L124.7 986.46 L125.28 984.72 L125.8 983.1 L126.23 981.7 L126.6 980.45 L126.94 979.18 L127.3 977.7 L127.71 975.76 L128.14 973.51 L128.53 971.44 L128.8 970" fill="none" stroke="#444" stroke-width="1.0" stroke-linejoin="round" stroke-linecap="round" />
<path d="M128.8 969.8 L129.03 968.87 L129.26 968.01 L129.48 967.15 L129.72 965.96 L129.96 964.98 L130.22 964.06 L130.49 963.31 L130.8 962.12 L131.12 961.41 L131.47 960.44 L131.81 959.29 L132.16 958.51 L132.49 957.53 L132.82 956.57 L133.15 955.86 L133.48 954.56 L133.81 953.59 L134.15 953.01 L134.49 951.86 L134.84 950.84 L135.19 949.95 L135.53 949.03 L135.88 948.33 L136.23 947.09 L136.59 946.16 L136.94 945.37 L137.29 944.42 L137.65 943.65 L138.01 942.67 L138.35 941.54 L138.7 940.54 L139.04 939.85 L139.38 938.97 L139.72 937.65 L140.04 936.98 L140.35 936.09 L140.64 935.04 L140.92 933.91 L141.18 933.18 L141.44 932.18 L141.7 931 L141.97 930.22 L142.26 929.09 L142.55 928.07 L142.85 927.23 L143.1 926.43" fill="none" stroke="#111" stroke-width="1.5" stroke-linejoin="round" stroke-linecap="round" />
<path d="M142.7 925.7 L144.94 925.93 L145 922.74 L146.34 922.46 L146.12 919.08 L147.62 918.91 L147.59 915.55 L149.24 915.5 L149.4 912.17 L151.2 912.28 L151.38 908.88 L153.17 909.06 L153.34 905.59 L155.1 905.82 L155.27 902.27 L157.04 902.59 L157.24 898.98 L159.08 899.42 L159.33 895.76 L161.22 896.32 L161.56 892.63 L163.53 893.34 L163.91 889.6 L165.92 890.42 L166.32 886.61 L168.29 887.5 L168.65 883.55 L170.69 884.6 L171.19 880.68 L173.33 881.91 L173.88 877.93 L176.04 879.29 L176.6 875.22 L178.8 876.73 L179.49 872.7 L181.92 874.64 L182.82 870.81 L185.32 873 L186.23 869.04 L188.73 871.38 L189.61 867.24 L192.05 869.59 L192.9 865.27 L195.4 867.86 L196.33 863.56 L198.89 866.42 L199.9 862.18 L202.53 865.4 L203.56 861.1 L206.17 864.39 L207.18 859.88 L209.81 863.34 L210.84 858.76 L212.2 862.74" fill="none" stroke="#151515" stroke-width="1.25" stroke-linejoin="round" stroke-linecap="round" />
<line x1="211.5" y1="858" x2="211.8" y2="863.5" stroke="#111" stroke-width="1.1"/>
<path d="M100.4 1019.03 L101.2 1018.49 L102.01 1017.93 L102.81 1017.58 L103.61 1016.82 L104.43 1016.33 L105.24 1015.5 L106.02 1015.04 L106.74 1014.48 L107.43 1013.62 L108.08 1013.03 L108.69 1012.22 L109.28 1011.2 L109.83 1010.22 L110.36 1009.67 L110.85 1008.55 L111.33 1007.63 L111.81 1007.04 L112.31 1006.21 L112.82 1005.35 L113.37 1004.56 L113.93 1003.44 L114.51 1002.57 L115.08 1001.77 L115.62 1001.27 L116.14 1000.07 L116.65 999.23 L117.15 998.31 L117.64 997.45 L118.11 996.56 L118.57 995.8 L119.01 994.82 L119.43 993.98 L119.84 993.31 L120.24 992.09 L120.63 991.43 L121.01 990.47 L121.4 989.48 L121.77 988.56 L122.15 987.71 L122.51 986.7 L122.88 985.63 L123.24 984.74 L123.6 983.77 L123.95 982.9 L124.31 982.2 L124.67 981.04 L125.02 979.96 L125.38 979.19 L125.73 978.39 L126.08 977.31 L126.43 976.47 L126.78 975.29 L127.13 974.34 L127.47 973.64 L127.82 972.46 L128.17 971.62 L128.52 970.72 L128.8 969.88" fill="none" stroke="#111" stroke-width="1.6" stroke-linejoin="round" stroke-linecap="round" />
<path d="M141.9 930.42 L142.13 929.47 L142.36 928.55 L142.59 927.41 L142.82 926.55 L143.07 925.66 L143.32 924.69 L143.59 923.51 L143.86 922.69 L144.13 921.72 L144.4 920.72 L144.67 919.9 L144.93 918.8 L145.2 917.81 L145.46 917 L145.72 915.94 L145.99 914.87 L146.26 913.91 L146.53 913.01 L146.8 911.91 L147.07 911.11 L147.34 910.19 L147.62 909.14 L147.9 908.3 L148.19 907.37 L148.47 906.3 L148.78 905.38 L149.08 904.26 L149.39 903.29 L149.71 902.62 L150.02 901.47 L150.34 900.5 L150.66 899.75 L150.97 898.76 L151.28 897.62 L151.59 896.73 L151.9 895.76 L152.22 894.82 L152.54 893.79 L152.86 893 L153.19 891.99 L153.54 891.08 L153.9 890.08 L154.26 889.13 L154.62 888.17 L154.97 887.49 L155.32 886.51 L155.63 885.5 L155.94 884.42 L156.23 883.47 L156.53 882.51 L156.82 881.61 L157.11 880.58 L157.42 879.69 L157.74 878.72 L158.07 877.77 L158.41 876.97 L158.78 875.98 L159.17 875.07 L159.59 874.13 L160.03 873.28 L160.48 872.46 L160.94 871.43 L161.4 870.47 L161.85 869.7 L162.29 868.78 L162.75 868.01 L163.21 866.92 L163.7 866.28 L164.22 865.17 L164.76 864.48 L165.29 863.61 L165.77 862.69 L166.19 861.95 L166.58 860.98 L166.96 859.89 L167.32 859.06 L167.69 858.16 L167.7 857.96" fill="none" stroke="#222" stroke-width="1.1" stroke-linejoin="round" stroke-linecap="round" />
<path d="M165.8 862.73 L166.17 861.86 L166.53 861.18 L166.91 860.31 L167.3 859.37 L167.71 857.95 L168.18 857.65 L168.69 856.26 L169.21 855.29 L169.73 854.23 L170.25 853.79 L170.77 852.58 L171.29 851.84 L171.81 851.32 L172.33 850.63 L172.84 849.75 L173.34 848.22 L173.85 847.33 L174.36 846.67 L174.87 846.1 L175.39 845.54 L175.92 844.65 L176.44 843.93 L176.94 842.72 L177.41 841.88 L177.85 840.64 L178.31 839.77 L178.79 838.79 L179.3 838.26 L179.81 837.47 L180.31 836.57 L180.79 835.51 L181.21 834.64 L181.6 833.54 L181.99 833.19 L182.44 832.06 L182.97 831.38 L183.57 830.65 L184.23 829.36 L184.89 828.45 L185.52 827.84 L186.11 827.66 L186.67 826.71 L187.21 825.49 L187.75 825.01 L188.29 823.74 L188.83 823.42 L189.38 821.81 L189.93 821.62 L190.48 821.03 L191.04 819.64 L191.62 818.86 L192.2 817.72 L192.79 817.06 L193.39 816.22 L194.02 815.5 L194.68 814.52 L195.39 814.06 L196.19 813.25 L197.02 813.12 L197.83 812.42 L198.57 811.57 L199.27 811.58 L199.96 810.21 L200.66 809.73 L201.42 809.44 L202.26 808.77 L203.14 808.49 L203.97 807.58 L204.7 807.17 L205.37 805.62 L206.02 805.52 L206.66 804.36 L207.32 803.6 L208.04 803.35 L208.79 802.66 L209.53 801.58 L210.21 800.88 L210.79 799.98 L211.29 799.77 L211.74 798.56 L212.18 797.3 L212.3 797.33" fill="none" stroke="#111" stroke-width="1.6" stroke-linejoin="round" stroke-linecap="round" />
<line x1="178.5" y1="841.5" x2="178.7" y2="846.5" stroke="#111" stroke-width="1.1"/>
<path d="M209.5 799.5 L212.5 795.5 L213.5 798 L211 802 Z" fill="#111"/>
<path d="M102.7 1017.73 L103.52 1017.27 L104.33 1016.69 L105.13 1016.16 L105.9 1015.18 L106.62 1014.89 L107.31 1013.93 L107.99 1013.3 L108.68 1012.58 L109.37 1011.96 L110.06 1010.85 L110.76 1010.19 L111.49 1009.71 L112.24 1008.97 L113.01 1008.43 L113.79 1007.58 L114.6 1007.34 L115.41 1006.19 L116.23 1006.04 L117.06 1005.29 L117.91 1004.54 L118.76 1004.41 L119.62 1003.52 L120.47 1003.12 L121.34 1002.66 L122.2 1002.06 L123.06 1001.56 L123.92 1000.99 L124.78 1000.94 L125.63 999.96 L126.49 999.49 L127.34 998.92 L128.2 998.9 L129.05 998.16 L129.91 997.82 L130.78 997.41 L131.67 996.67 L132.58 996.2 L133.5 995.8 L134.42 995.33 L135.32 995.09 L136.19 994.83 L137.06 994.05 L137.94 993.72 L138.83 993.36 L139.74 992.91 L140.68 992.46 L141.62 992.05 L142.57 991.48 L143.53 991.35 L144.48 991.34 L145.44 990.81 L146.39 990.66 L147.35 990.09 L148.3 989.98 L149.24 989.44 L150.19 989.45 L151.13 989.13 L152.07 988.32 L153.01 988.36 L153.95 987.68 L154.89 987.85 L155.83 987.05 L156.77 986.68 L157.72 986.8 L158.66 986.31 L159.61 985.62 L160.55 985.57 L161.5 985.47 L162.45 984.76 L163.4 984.8 L164.35 984.21 L165.3 984 L166.25 983.66 L167.21 983.16 L168.16 983.06 L169.11 982.84 L170.07 982.59 L171.02 982.25 L171.98 981.73 L172.93 981.69 L173.89 981.2 L174.84 981.26 L175.79 980.48 L176.74 980.58 L177.69 979.86 L178.65 979.83 L179.6 979.4 L180.55 979.15 L181.5 978.98 L182.45 978.75 L183.41 977.97 L184.36 978.2 L185.32 977.77 L186.28 977.17 L187.24 977.25 L188.2 977.04 L189.17 976.53 L190.14 976.6 L191.11 975.93 L192.09 975.89 L193.07 975.55 L194.05 975.69 L195.03 975.18 L196.01 974.95 L196.99 975.21 L197.97 974.67 L198.95 974.5 L199.93 974.45 L200.91 973.94 L201.89 974.13 L202.87 973.86 L203.85 973.54 L204.84 973.53 L205.82 973.39 L206.8 972.73 L207.78 973.06 L208.76 972.6 L209.74 972.57 L210.72 972.31 L211.71 972.3 L211.8 972.16" fill="none" stroke="#111" stroke-width="1.4" stroke-linejoin="round" stroke-linecap="round" />
<path d="M76.9 1025.59 L80 1025.62 L85 1025.72 L90 1025.21 L94 1024.58 L97.7 1024.04 L100.4 1021.5 L102.7 1017.92" fill="none" stroke="#111" stroke-width="2.3" stroke-linejoin="round" stroke-linecap="round" />
<path d="M81.5 1027.01 L82.19 1028.13 L82.88 1029.11 L83.57 1028.87 L84.25 1029.69 L84.91 1028.98 L85.11 1031.52 L85.31 1028.75 L85.56 1029.97 L86.2 1028.13 L86.84 1029.17 L87.47 1029.84 L88.11 1028.77 L88.75 1029.91 L89.38 1030.92 L90.03 1030.85 L90.69 1031.68 L91.34 1031.97 L91.54 1034.26 L91.74 1031.51 L92 1033.03 L92.68 1031.35 L93.37 1030.63 L94.07 1030.82 L94.77 1033.2 L95.46 1030.54 L96.16 1032.12 L96.85 1031.16 L97.55 1032.49 L98.24 1032.04 L98.94 1031.37 L99.64 1030.28 L100.33 1030.96 L101.03 1032.2 L101.23 1034.28 L101.43 1031.25 L101.72 1031.04 L102.42 1031.47 L103.12 1031.48 L103.82 1030.72 L104.52 1031.89 L105.2 1029.71 L105.88 1031.24 L106.55 1030.3 L107.22 1029.28 L107.89 1031.16 L108.55 1028.91 L109.21 1030.23 L109.87 1030.06 L110.53 1028 L111.18 1029.44 L111.82 1029.05 L112.48 1027.36 L113.15 1027.28 L113.82 1028.83 L114.51 1027.79 L115.2 1026.97 L115.89 1026.45 L116.59 1028.92 L117.29 1027.83 L117.99 1028.14 L118.69 1028.47 L119.39 1027.19 L120.09 1028.73 L120.78 1026.9 L121.46 1028.23 L122.13 1025.86 L122.33 1029.66 L122.53 1027.14 L122.79 1027.99 L123.45 1025.66 L124.11 1027.52 L124.76 1027.3 L125.43 1026.62 L126.09 1025.68 L126.76 1024.66 L127.44 1026.24 L128.11 1025.19 L128.8 1024.81 L129 1027.85 L129.2 1025.02 L129.48 1024.28 L130.16 1024.83 L130.84 1025.53 L131.52 1024.92 L132.2 1024.82 L132.88 1024.76 L133.55 1024.56 L134.22 1023.03 L134.88 1024.38 L135.55 1022.37 L136.23 1022.87 L136.9 1023.04 L137.59 1021.94 L137.79 1024.92 L137.99 1022.7 L138.28 1023.51 L138.98 1023.08 L139.68 1022.24 L140.38 1023.22 L141.08 1023.53 L141.77 1021.7 L142.47 1021.7 L143.17 1022.29 L143.87 1022.7 L144.07 1024.82 L144.27 1022.59 L144.56 1022.81 L145.26 1021.98 L145.94 1022.32 L146.62 1022.93 L146.82 1024.17 L147.02 1022.07 L147.3 1022.9 L147.98 1021.75 L148.18 1024.64 L148.38 1021.73 L148.66 1021.56 L149.33 1021.91 L150.01 1020.22 L150.68 1021.65 L151.36 1021.56 L152.03 1020.23 L152.7 1020.26 L153.37 1020.48 L154.04 1020.42 L154.71 1019.39 L155.38 1018.95 L156.06 1020.06 L156.73 1018.71 L157.41 1019.35 L158.08 1019.76 L158.76 1018.71 L158.96 1021.2 L159.16 1018.68 L159.43 1017.85 L160.1 1019.02 L160.76 1017.27 L161.42 1018.39 L161.62 1020.61 L161.82 1017.81 L162.06 1018.36 L162.7 1016.69 L162.9 1019.92 L163.1 1017.26 L163.34 1016.79 L163.97 1016.01 L164.6 1017.23 L165.23 1016.21 L165.86 1016.04 L166.5 1015.78 L167.15 1014.22 L167.81 1014.09 L168.49 1015.06 L169.18 1014.16 L169.88 1015.3 L170.57 1015.25 L171.27 1014.25 L171.97 1015.41 L172.17 1016.53 L172.37 1014.44 L172.67 1014.82 L173.37 1013.96 L174.07 1013.79 L174.77 1014.54 L175.47 1014.76 L176.16 1013.59 L176.85 1013.76 L177.54 1015.4 L177.74 1016.97 L177.94 1014.73 L178.24 1014.89 L178.93 1015.79 L179.63 1015.04 L180.33 1015.11 L181.03 1015.13 L181.73 1015.25 L181.93 1017.46 L182.13 1015.04 L182.43 1015.45 L183.13 1014.61 L183.83 1014.52 L184.53 1015.83 L185.23 1014.75 L185.93 1015.34 L186.63 1015.48 L187.33 1014.98 L188.03 1014.43 L188.72 1015.34 L189.42 1014.61 L190.12 1014.2 L190.81 1015 L191.51 1014.81 L192.2 1013.68 L192.89 1013.99 L193.58 1014.07 L194.27 1013.74 L194.96 1014.07 L195.65 1014.15 L195.85 1016.55 L196.05 1013.9 L196.35 1012.98 L197.04 1013.01 L197.73 1014.25 L198.42 1013.44 L199.11 1013.95 L199.8 1013.9 L200.49 1013.42 L201.19 1013.31 L201.88 1012.66 L202.58 1012.44 L203.27 1012.5 L203.97 1013.63 L204.65 1012.33 L204.85 1015.22 L205.05 1012.57 L205.34 1011.79 L206.01 1012.04 L206.69 1012.03 L207.37 1012.78 L208.04 1012.09 L208.71 1012.06 L209.39 1012.27 L210.06 1010.44 L210.73 1011.38 L211.4 1011.04 L211.6 1013.57 L211.8 1010.72 L211.8 1010.27" fill="none" stroke="#111" stroke-width="1.1" stroke-linejoin="round" stroke-linecap="round" />
<path d="M81.5 1028 L82.04 1028.09 L82.83 1028.23 L83.69 1028.39 L84.5 1028.6 L85.22 1028.86 L85.92 1029.16 L86.61 1029.49 L87.3 1029.8 L87.97 1030.1 L88.63 1030.41 L89.3 1030.71 L90 1031 L90.75 1031.29 L91.54 1031.59 L92.33 1031.84 L93.1 1032 L93.84 1032.04 L94.57 1031.98 L95.29 1031.89 L96 1031.8 L96.71 1031.73 L97.41 1031.66 L98.11 1031.58 L98.8 1031.5 L99.47 1031.42 L100.13 1031.34 L100.8 1031.27 L101.5 1031.2 L102.25 1031.16 L103.04 1031.13 L103.83 1031.09 L104.6 1031 L105.34 1030.85 L106.06 1030.65 L106.78 1030.43 L107.5 1030.2 L108.23 1029.96 L108.97 1029.71 L109.7 1029.45 L110.4 1029.2 L111.06 1028.94 L111.68 1028.68 L112.31 1028.42 L113 1028.2 L113.72 1028.01 L114.48 1027.84 L115.29 1027.71 L116.2 1027.6 L117.23 1027.58 L118.34 1027.63 L119.54 1027.64 L120.8 1027.5 L122.15 1027.14 L123.57 1026.63 L125.04 1026.08 L126.5 1025.6 L127.94 1025.22 L129.39 1024.88 L130.85 1024.55 L132.3 1024.2 L133.75 1023.78 L135.21 1023.31 L136.66 1022.89 L138.1 1022.6 L139.53 1022.52 L140.95 1022.58 L142.37 1022.65 L143.8 1022.6 L145.24 1022.38 L146.69 1022.06 L148.15 1021.68 L149.6 1021.3 L151.05 1020.9 L152.5 1020.47 L153.95 1020.03 L155.4 1019.6 L156.85 1019.2 L158.31 1018.81 L159.76 1018.39 L161.2 1017.9 L162.69 1017.27 L164.22 1016.54 L165.66 1015.84 L166.9 1015.3 L167.81 1014.98 L168.49 1014.8 L169.15 1014.7 L170 1014.6 L171.12 1014.5 L172.38 1014.42 L173.71 1014.38 L175 1014.4 L176.17 1014.51 L177.29 1014.69 L178.51 1014.88 L180 1015 L181.9 1015.04 L184.1 1015.04 L186.35 1015 L188.4 1014.9 L190.2 1014.73 L191.88 1014.5 L193.46 1014.24 L195 1014 L196.5 1013.77 L197.94 1013.53 L199.31 1013.3 L200.6 1013.1 L201.73 1012.96 L202.72 1012.86 L203.76 1012.73 L205 1012.5 L206.69 1012.07 L208.68 1011.51 L210.52 1010.97 L211.8 1010.6" fill="none" stroke="#111" stroke-width="1.5" stroke-linejoin="round" stroke-linecap="round" />
<line x1="87.5" y1="1029" x2="87.5" y2="1037" stroke="#111" stroke-width="1.0"/>
<line x1="89.5" y1="1030" x2="89.5" y2="1036" stroke="#111" stroke-width="1.0"/>
<line x1="92.3" y1="1031" x2="92.3" y2="1040" stroke="#111" stroke-width="1.0"/>
<line x1="94.2" y1="1031" x2="94.2" y2="1038.5" stroke="#111" stroke-width="1.0"/>
<line x1="96.8" y1="1031" x2="96.8" y2="1039.6" stroke="#111" stroke-width="1.0"/>
<line x1="104.8" y1="1031" x2="104.8" y2="1036" stroke="#111" stroke-width="1.0"/>
<line x1="137" y1="1022" x2="137" y2="1027" stroke="#111" stroke-width="1.0"/>
<line x1="152.1" y1="1020" x2="152.1" y2="1026.5" stroke="#111" stroke-width="1.0"/>
<line x1="80.9" y1="1009.6" x2="80.9" y2="1065" stroke="#555" stroke-width="1.2"/>
<line x1="82.2" y1="1012" x2="82.2" y2="1050" stroke="#777" stroke-width="0.8"/>
<line x1="99.9" y1="1015" x2="99.9" y2="1068" stroke="#999" stroke-width="1.0"/>
<line x1="102.3" y1="1021" x2="102.3" y2="1054.6" stroke="#888" stroke-width="0.8"/>
<line x1="120.2" y1="1016.7" x2="120.2" y2="1050" stroke="#666" stroke-width="1.1"/>
<line x1="123.1" y1="1016.7" x2="123.1" y2="1045" stroke="#666" stroke-width="1.0"/>
<line x1="78.5" y1="1009.5" x2="78.5" y2="1026" stroke="#333" stroke-width="1.2"/>
<line x1="75.5" y1="1040" x2="75.5" y2="1055" stroke="#bbb" stroke-width="1" stroke-dasharray="1.2 2.5"/>
<circle cx="98.5" cy="913.4" r="0.7" fill="#777"/>
<path d="M449.5 579.5 L453.6 574 L454.6 576.5 L452 580.5 Z" fill="#111"/>
<path d="M440 561.5 L443.5 559.8 L444.3 563 L441 564 Z" fill="#111"/>
</svg>
</body></html>
